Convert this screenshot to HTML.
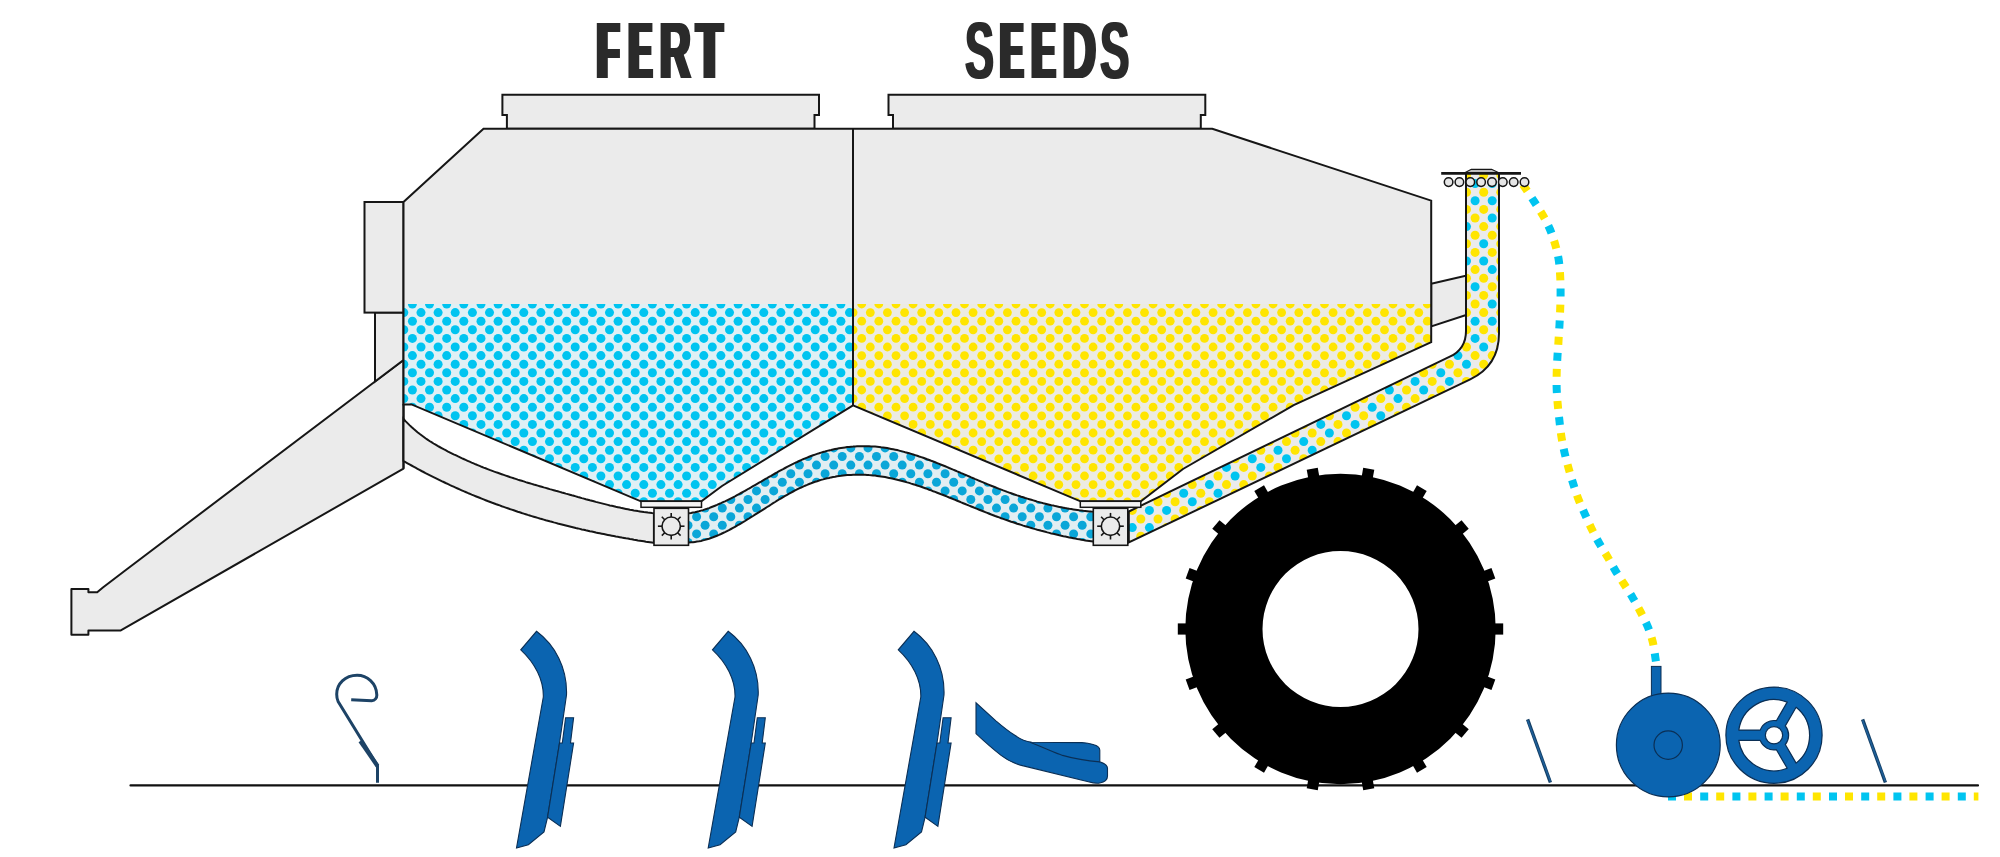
<!DOCTYPE html>
<html><head><meta charset="utf-8"><style>
html,body{margin:0;padding:0;background:#fff;overflow:hidden;}
svg{display:block;}
</style></head><body>
<svg width="2000" height="857" viewBox="0 0 2000 857">
<rect width="2000" height="857" fill="#fff"/>
<defs><clipPath id="cl"><polygon points="403.5,304 853,304 853,405.3 722,486 701.4,501.3 640.9,501.3 411.5,404.4 403.5,404.4"/></clipPath><clipPath id="cr"><polygon points="853,304 1431.2,304 1431.2,342.2 1293.7,405.2 1183,469 1140.9,501.3 1080.5,501.3 853,405.3"/></clipPath><clipPath id="cs"><path d="M689,513.3 L691,513 L693,512.6 L695,512.2 L697,511.7 L699,511.2 L701,510.6 L703,510.1 L705,509.4 L707,508.8 L709,508.1 L711,507.3 L713,506.5 L715,505.7 L717,504.9 L719,504 L721,503.2 L723,502.2 L725,501.3 L727,500.3 L729,499.3 L731,498.3 L733,497.3 L735,496.3 L737,495.2 L739,494.1 L741,493 L743,491.9 L745,490.8 L747,489.7 L749,488.5 L751,487.4 L753,486.2 L755,485.1 L757.1,483.9 L759.1,482.7 L761.1,481.6 L763.1,480.4 L765.1,479.2 L767.1,478.1 L769.1,476.9 L771.1,475.8 L773.1,474.6 L775.1,473.5 L777.1,472.4 L779.1,471.2 L781.1,470.1 L783.1,469.1 L785.1,468 L787.1,466.9 L789.1,465.9 L791.1,464.9 L793.1,463.9 L795.1,462.9 L797.1,462 L799.1,461 L801.1,460.1 L803.1,459.2 L805.1,458.4 L807.1,457.6 L809.1,456.8 L811.1,456 L813.1,455.3 L815.1,454.6 L817.1,453.9 L819.1,453.3 L821.1,452.6 L823.1,452 L825.1,451.5 L827.1,450.9 L829.1,450.4 L831.1,450 L833.1,449.5 L835.1,449.1 L837.1,448.7 L839.1,448.3 L841.1,448 L843.1,447.7 L845.1,447.4 L847.1,447.1 L849.1,446.9 L851.1,446.7 L853.1,446.6 L855.1,446.4 L857.1,446.3 L859.1,446.2 L861.1,446.2 L863.1,446.2 L865.1,446.2 L867.1,446.2 L869.1,446.3 L871.1,446.4 L873.1,446.5 L875.1,446.6 L877.1,446.8 L879.1,447 L881.1,447.3 L883.1,447.5 L885.1,447.8 L887.1,448.1 L889.1,448.5 L891.1,448.9 L893.2,449.3 L895.2,449.7 L897.2,450.1 L899.2,450.6 L901.2,451.1 L903.2,451.6 L905.2,452.2 L907.2,452.7 L909.2,453.3 L911.2,453.9 L913.2,454.5 L915.2,455.1 L917.2,455.8 L919.2,456.5 L921.2,457.1 L923.2,457.8 L925.2,458.5 L927.2,459.3 L929.2,460 L931.2,460.8 L933.2,461.5 L935.2,462.3 L937.2,463.1 L939.2,463.9 L941.2,464.7 L943.2,465.5 L945.2,466.3 L947.2,467.1 L949.2,468 L951.2,468.8 L953.2,469.7 L955.2,470.5 L957.2,471.4 L959.2,472.2 L961.2,473.1 L963.2,473.9 L965.2,474.8 L967.2,475.6 L969.2,476.5 L971.2,477.4 L973.2,478.2 L975.2,479.1 L977.2,479.9 L979.2,480.8 L981.2,481.6 L983.2,482.4 L985.2,483.3 L987.2,484.1 L989.2,484.9 L991.2,485.7 L993.2,486.5 L995.2,487.3 L997.2,488.1 L999.2,488.9 L1001.2,489.6 L1003.2,490.4 L1005.2,491.1 L1007.2,491.9 L1009.2,492.6 L1011.2,493.3 L1013.2,494 L1015.2,494.7 L1017.2,495.4 L1019.2,496 L1021.2,496.7 L1023.2,497.3 L1025.2,498 L1027.3,498.6 L1029.3,499.2 L1031.3,499.8 L1033.3,500.4 L1035.3,501 L1037.3,501.6 L1039.3,502.1 L1041.3,502.6 L1043.3,503.2 L1045.3,503.7 L1047.3,504.2 L1049.3,504.7 L1051.3,505.2 L1053.3,505.6 L1055.3,506.1 L1057.3,506.5 L1059.3,506.9 L1061.3,507.3 L1063.3,507.7 L1065.3,508.1 L1067.3,508.4 L1069.3,508.8 L1071.3,509.1 L1073.3,509.4 L1075.3,509.7 L1077.3,510 L1079.3,510.3 L1081.3,510.5 L1083.3,510.8 L1085.3,511 L1087.3,511.2 L1089.3,511.4 L1091.3,511.6 L1093.3,511.7 L1093.3,541.6 L1091.3,541.3 L1089.3,541 L1087.3,540.7 L1085.3,540.4 L1083.3,540 L1081.3,539.7 L1079.3,539.3 L1077.3,539 L1075.3,538.6 L1073.3,538.2 L1071.3,537.8 L1069.3,537.4 L1067.3,537 L1065.3,536.6 L1063.3,536.2 L1061.3,535.7 L1059.3,535.3 L1057.3,534.8 L1055.3,534.3 L1053.3,533.8 L1051.3,533.4 L1049.3,532.9 L1047.3,532.4 L1045.3,531.8 L1043.3,531.3 L1041.3,530.8 L1039.3,530.2 L1037.3,529.7 L1035.3,529.1 L1033.3,528.6 L1031.3,528 L1029.3,527.4 L1027.3,526.8 L1025.2,526.2 L1023.2,525.6 L1021.2,524.9 L1019.2,524.3 L1017.2,523.7 L1015.2,523 L1013.2,522.3 L1011.2,521.7 L1009.2,521 L1007.2,520.3 L1005.2,519.6 L1003.2,518.9 L1001.2,518.2 L999.2,517.4 L997.2,516.7 L995.2,516 L993.2,515.2 L991.2,514.5 L989.2,513.7 L987.2,512.9 L985.2,512.1 L983.2,511.3 L981.2,510.5 L979.2,509.7 L977.2,508.9 L975.2,508.1 L973.2,507.3 L971.2,506.5 L969.2,505.7 L967.2,504.8 L965.2,504 L963.2,503.2 L961.2,502.4 L959.2,501.5 L957.2,500.7 L955.2,499.9 L953.2,499.1 L951.2,498.3 L949.2,497.5 L947.2,496.6 L945.2,495.8 L943.2,495 L941.2,494.3 L939.2,493.5 L937.2,492.7 L935.2,491.9 L933.2,491.2 L931.2,490.4 L929.2,489.7 L927.2,488.9 L925.2,488.2 L923.2,487.5 L921.2,486.8 L919.2,486.1 L917.2,485.5 L915.2,484.8 L913.2,484.2 L911.2,483.6 L909.2,482.9 L907.2,482.4 L905.2,481.8 L903.2,481.2 L901.2,480.7 L899.2,480.2 L897.2,479.7 L895.2,479.2 L893.2,478.7 L891.1,478.3 L889.1,477.9 L887.1,477.5 L885.1,477.1 L883.1,476.8 L881.1,476.5 L879.1,476.2 L877.1,475.9 L875.1,475.6 L873.1,475.4 L871.1,475.2 L869.1,475.1 L867.1,474.9 L865.1,474.8 L863.1,474.8 L861.1,474.7 L859.1,474.7 L857.1,474.7 L855.1,474.7 L853.1,474.8 L851.1,474.9 L849.1,475 L847.1,475.1 L845.1,475.3 L843.1,475.5 L841.1,475.8 L839.1,476 L837.1,476.3 L835.1,476.7 L833.1,477 L831.1,477.4 L829.1,477.9 L827.1,478.3 L825.1,478.8 L823.1,479.4 L821.1,479.9 L819.1,480.5 L817.1,481.2 L815.1,481.8 L813.1,482.5 L811.1,483.3 L809.1,484 L807.1,484.9 L805.1,485.7 L803.1,486.6 L801.1,487.5 L799.1,488.4 L797.1,489.4 L795.1,490.4 L793.1,491.5 L791.1,492.6 L789.1,493.7 L787.1,494.8 L785.1,495.9 L783.1,497.1 L781.1,498.3 L779.1,499.5 L777.1,500.7 L775.1,502 L773.1,503.2 L771.1,504.5 L769.1,505.8 L767.1,507 L765.1,508.3 L763.1,509.6 L761.1,510.9 L759.1,512.2 L757.1,513.4 L755,514.7 L753,516 L751,517.2 L749,518.5 L747,519.7 L745,521 L743,522.2 L741,523.4 L739,524.5 L737,525.7 L735,526.8 L733,527.9 L731,529 L729,530.1 L727,531.1 L725,532.1 L723,533 L721,534 L719,534.9 L717,535.7 L715,536.5 L713,537.3 L711,538 L709,538.7 L707,539.3 L705,539.9 L703,540.4 L701,540.9 L699,541.3 L697,541.6 L695,541.9 L693,542.2 L691,542.3 L689,542.5 Z"/></clipPath><clipPath id="ct"><path d="M1466,174 V330.9 Q1466,348.9 1449.8,356.7 L1128.8,511.5 L1128.8,542.5 L1470.2,379.4 Q1499,365.5 1499,333.5 V174 Z"/></clipPath></defs>
<filter id="dil2_75" x="-30%" y="-10%" width="160%" height="120%"><feMorphology operator="dilate" radius="2.75 0"/></filter>
<filter id="dil1_0" x="-30%" y="-10%" width="160%" height="120%"><feMorphology operator="dilate" radius="1.0 0"/></filter>
<filter id="dil2_0" x="-30%" y="-10%" width="160%" height="120%"><feMorphology operator="dilate" radius="2.0 0"/></filter>
<filter id="dil2_2" x="-30%" y="-10%" width="160%" height="120%"><feMorphology operator="dilate" radius="2.2 0"/></filter>
<g fill="#2a2a2a" filter="url(#dil2_75)"><text transform="translate(597.5,77.7) scale(0.4378,1)" font-family="Liberation Sans" font-weight="bold" font-size="78.8">F</text><text transform="translate(629.2,77.7) scale(0.4207,1)" font-family="Liberation Sans" font-weight="bold" font-size="78.8">E</text><text transform="translate(697,77.7) scale(0.5151,1)" font-family="Liberation Sans" font-weight="bold" font-size="78.8">T</text></g><g fill="#2a2a2a" filter="url(#dil2_2)"><text transform="translate(659.8,77.7) scale(0.5418,1)" font-family="Liberation Sans" font-weight="bold" font-size="78.8">R</text></g>
<g fill="#2a2a2a" filter="url(#dil1_0)"><text transform="translate(965,77.7) scale(0.5507,1)" font-family="Liberation Sans" font-weight="bold" font-size="78.8">S</text><text transform="translate(1100.1,77.7) scale(0.5592,1)" font-family="Liberation Sans" font-weight="bold" font-size="78.8">S</text></g><g fill="#2a2a2a" filter="url(#dil2_75)"><text transform="translate(1000.7,77.7) scale(0.4139,1)" font-family="Liberation Sans" font-weight="bold" font-size="78.8">E</text><text transform="translate(1032.2,77.7) scale(0.4252,1)" font-family="Liberation Sans" font-weight="bold" font-size="78.8">E</text></g><g fill="#2a2a2a" filter="url(#dil2_0)"><text transform="translate(1062.4,77.7) scale(0.5877,1)" font-family="Liberation Sans" font-weight="bold" font-size="78.8">D</text></g>
<polygon points="403.5,360 126.5,569.5 102.9,587.5 97.2,592.3 88.4,592.3 88.4,589.1 71.4,589.1 71.4,634.7 88.4,634.7 88.4,630.4 120.8,630.4 403.5,468.6" fill="#ebebeb" stroke="#161616" stroke-width="2.0" stroke-linejoin="round"/>
<polygon points="375,312.6 403.5,312.6 403.5,360 375,381.5" fill="#ebebeb" stroke="#161616" stroke-width="2.0"/>
<rect x="364.5" y="202" width="39" height="110.6" fill="#ebebeb" stroke="#161616" stroke-width="2.0"/>
<polygon points="506.9,128.8 506.9,114.9 502.4,114.9 502.4,94.7 819,94.7 819,114.9 814.5,114.9 814.5,128.8" fill="#ebebeb" stroke="#161616" stroke-width="2.0"/>
<polygon points="893,128.8 893,114.9 888.5,114.9 888.5,94.7 1205.3,94.7 1205.3,114.9 1200.8,114.9 1200.8,128.8" fill="#ebebeb" stroke="#161616" stroke-width="2.0"/>
<polygon points="1431.2,283.7 1470,274.8 1470,313.8 1431.2,326.4" fill="#ebebeb" stroke="#161616" stroke-width="2.0"/>
<polygon points="483.5,128.8 1212.3,128.8 1431.2,200.6 1431.2,342.2 1293.7,405.2 1183,469 1140.9,501.3 1080.5,501.3 853,405.3 722,486 701.4,501.3 640.9,501.3 411.5,404.4 403.5,404.4 403.5,202" fill="#ebebeb"/>
<g clip-path="url(#cl)"><rect x="400" y="300" width="460" height="210" fill="#dff0f5"/><g fill="#00c4f0"><circle cx="412.4" cy="304" r="4.5"/><circle cx="429.5" cy="304" r="4.5"/><circle cx="446.7" cy="304" r="4.5"/><circle cx="463.8" cy="304" r="4.5"/><circle cx="481" cy="304" r="4.5"/><circle cx="498.1" cy="304" r="4.5"/><circle cx="515.2" cy="304" r="4.5"/><circle cx="532.4" cy="304" r="4.5"/><circle cx="549.5" cy="304" r="4.5"/><circle cx="566.7" cy="304" r="4.5"/><circle cx="583.8" cy="304" r="4.5"/><circle cx="600.9" cy="304" r="4.5"/><circle cx="618.1" cy="304" r="4.5"/><circle cx="635.2" cy="304" r="4.5"/><circle cx="652.4" cy="304" r="4.5"/><circle cx="669.5" cy="304" r="4.5"/><circle cx="686.6" cy="304" r="4.5"/><circle cx="703.8" cy="304" r="4.5"/><circle cx="720.9" cy="304" r="4.5"/><circle cx="738.1" cy="304" r="4.5"/><circle cx="755.2" cy="304" r="4.5"/><circle cx="772.3" cy="304" r="4.5"/><circle cx="789.5" cy="304" r="4.5"/><circle cx="806.6" cy="304" r="4.5"/><circle cx="823.8" cy="304" r="4.5"/><circle cx="840.9" cy="304" r="4.5"/><circle cx="858" cy="304" r="4.5"/><circle cx="403.8" cy="312.6" r="4.5"/><circle cx="421" cy="312.6" r="4.5"/><circle cx="438.1" cy="312.6" r="4.5"/><circle cx="455.2" cy="312.6" r="4.5"/><circle cx="472.4" cy="312.6" r="4.5"/><circle cx="489.5" cy="312.6" r="4.5"/><circle cx="506.7" cy="312.6" r="4.5"/><circle cx="523.8" cy="312.6" r="4.5"/><circle cx="540.9" cy="312.6" r="4.5"/><circle cx="558.1" cy="312.6" r="4.5"/><circle cx="575.2" cy="312.6" r="4.5"/><circle cx="592.4" cy="312.6" r="4.5"/><circle cx="609.5" cy="312.6" r="4.5"/><circle cx="626.6" cy="312.6" r="4.5"/><circle cx="643.8" cy="312.6" r="4.5"/><circle cx="660.9" cy="312.6" r="4.5"/><circle cx="678.1" cy="312.6" r="4.5"/><circle cx="695.2" cy="312.6" r="4.5"/><circle cx="712.3" cy="312.6" r="4.5"/><circle cx="729.5" cy="312.6" r="4.5"/><circle cx="746.6" cy="312.6" r="4.5"/><circle cx="763.8" cy="312.6" r="4.5"/><circle cx="780.9" cy="312.6" r="4.5"/><circle cx="798" cy="312.6" r="4.5"/><circle cx="815.2" cy="312.6" r="4.5"/><circle cx="832.3" cy="312.6" r="4.5"/><circle cx="849.5" cy="312.6" r="4.5"/><circle cx="412.4" cy="321.2" r="4.5"/><circle cx="429.5" cy="321.2" r="4.5"/><circle cx="446.7" cy="321.2" r="4.5"/><circle cx="463.8" cy="321.2" r="4.5"/><circle cx="481" cy="321.2" r="4.5"/><circle cx="498.1" cy="321.2" r="4.5"/><circle cx="515.2" cy="321.2" r="4.5"/><circle cx="532.4" cy="321.2" r="4.5"/><circle cx="549.5" cy="321.2" r="4.5"/><circle cx="566.7" cy="321.2" r="4.5"/><circle cx="583.8" cy="321.2" r="4.5"/><circle cx="600.9" cy="321.2" r="4.5"/><circle cx="618.1" cy="321.2" r="4.5"/><circle cx="635.2" cy="321.2" r="4.5"/><circle cx="652.4" cy="321.2" r="4.5"/><circle cx="669.5" cy="321.2" r="4.5"/><circle cx="686.6" cy="321.2" r="4.5"/><circle cx="703.8" cy="321.2" r="4.5"/><circle cx="720.9" cy="321.2" r="4.5"/><circle cx="738.1" cy="321.2" r="4.5"/><circle cx="755.2" cy="321.2" r="4.5"/><circle cx="772.3" cy="321.2" r="4.5"/><circle cx="789.5" cy="321.2" r="4.5"/><circle cx="806.6" cy="321.2" r="4.5"/><circle cx="823.8" cy="321.2" r="4.5"/><circle cx="840.9" cy="321.2" r="4.5"/><circle cx="858" cy="321.2" r="4.5"/><circle cx="403.8" cy="329.8" r="4.5"/><circle cx="421" cy="329.8" r="4.5"/><circle cx="438.1" cy="329.8" r="4.5"/><circle cx="455.2" cy="329.8" r="4.5"/><circle cx="472.4" cy="329.8" r="4.5"/><circle cx="489.5" cy="329.8" r="4.5"/><circle cx="506.7" cy="329.8" r="4.5"/><circle cx="523.8" cy="329.8" r="4.5"/><circle cx="540.9" cy="329.8" r="4.5"/><circle cx="558.1" cy="329.8" r="4.5"/><circle cx="575.2" cy="329.8" r="4.5"/><circle cx="592.4" cy="329.8" r="4.5"/><circle cx="609.5" cy="329.8" r="4.5"/><circle cx="626.6" cy="329.8" r="4.5"/><circle cx="643.8" cy="329.8" r="4.5"/><circle cx="660.9" cy="329.8" r="4.5"/><circle cx="678.1" cy="329.8" r="4.5"/><circle cx="695.2" cy="329.8" r="4.5"/><circle cx="712.3" cy="329.8" r="4.5"/><circle cx="729.5" cy="329.8" r="4.5"/><circle cx="746.6" cy="329.8" r="4.5"/><circle cx="763.8" cy="329.8" r="4.5"/><circle cx="780.9" cy="329.8" r="4.5"/><circle cx="798" cy="329.8" r="4.5"/><circle cx="815.2" cy="329.8" r="4.5"/><circle cx="832.3" cy="329.8" r="4.5"/><circle cx="849.5" cy="329.8" r="4.5"/><circle cx="412.4" cy="338.4" r="4.5"/><circle cx="429.5" cy="338.4" r="4.5"/><circle cx="446.7" cy="338.4" r="4.5"/><circle cx="463.8" cy="338.4" r="4.5"/><circle cx="481" cy="338.4" r="4.5"/><circle cx="498.1" cy="338.4" r="4.5"/><circle cx="515.2" cy="338.4" r="4.5"/><circle cx="532.4" cy="338.4" r="4.5"/><circle cx="549.5" cy="338.4" r="4.5"/><circle cx="566.7" cy="338.4" r="4.5"/><circle cx="583.8" cy="338.4" r="4.5"/><circle cx="600.9" cy="338.4" r="4.5"/><circle cx="618.1" cy="338.4" r="4.5"/><circle cx="635.2" cy="338.4" r="4.5"/><circle cx="652.4" cy="338.4" r="4.5"/><circle cx="669.5" cy="338.4" r="4.5"/><circle cx="686.6" cy="338.4" r="4.5"/><circle cx="703.8" cy="338.4" r="4.5"/><circle cx="720.9" cy="338.4" r="4.5"/><circle cx="738.1" cy="338.4" r="4.5"/><circle cx="755.2" cy="338.4" r="4.5"/><circle cx="772.3" cy="338.4" r="4.5"/><circle cx="789.5" cy="338.4" r="4.5"/><circle cx="806.6" cy="338.4" r="4.5"/><circle cx="823.8" cy="338.4" r="4.5"/><circle cx="840.9" cy="338.4" r="4.5"/><circle cx="858" cy="338.4" r="4.5"/><circle cx="403.8" cy="347" r="4.5"/><circle cx="421" cy="347" r="4.5"/><circle cx="438.1" cy="347" r="4.5"/><circle cx="455.2" cy="347" r="4.5"/><circle cx="472.4" cy="347" r="4.5"/><circle cx="489.5" cy="347" r="4.5"/><circle cx="506.7" cy="347" r="4.5"/><circle cx="523.8" cy="347" r="4.5"/><circle cx="540.9" cy="347" r="4.5"/><circle cx="558.1" cy="347" r="4.5"/><circle cx="575.2" cy="347" r="4.5"/><circle cx="592.4" cy="347" r="4.5"/><circle cx="609.5" cy="347" r="4.5"/><circle cx="626.6" cy="347" r="4.5"/><circle cx="643.8" cy="347" r="4.5"/><circle cx="660.9" cy="347" r="4.5"/><circle cx="678.1" cy="347" r="4.5"/><circle cx="695.2" cy="347" r="4.5"/><circle cx="712.3" cy="347" r="4.5"/><circle cx="729.5" cy="347" r="4.5"/><circle cx="746.6" cy="347" r="4.5"/><circle cx="763.8" cy="347" r="4.5"/><circle cx="780.9" cy="347" r="4.5"/><circle cx="798" cy="347" r="4.5"/><circle cx="815.2" cy="347" r="4.5"/><circle cx="832.3" cy="347" r="4.5"/><circle cx="849.5" cy="347" r="4.5"/><circle cx="412.4" cy="355.6" r="4.5"/><circle cx="429.5" cy="355.6" r="4.5"/><circle cx="446.7" cy="355.6" r="4.5"/><circle cx="463.8" cy="355.6" r="4.5"/><circle cx="481" cy="355.6" r="4.5"/><circle cx="498.1" cy="355.6" r="4.5"/><circle cx="515.2" cy="355.6" r="4.5"/><circle cx="532.4" cy="355.6" r="4.5"/><circle cx="549.5" cy="355.6" r="4.5"/><circle cx="566.7" cy="355.6" r="4.5"/><circle cx="583.8" cy="355.6" r="4.5"/><circle cx="600.9" cy="355.6" r="4.5"/><circle cx="618.1" cy="355.6" r="4.5"/><circle cx="635.2" cy="355.6" r="4.5"/><circle cx="652.4" cy="355.6" r="4.5"/><circle cx="669.5" cy="355.6" r="4.5"/><circle cx="686.6" cy="355.6" r="4.5"/><circle cx="703.8" cy="355.6" r="4.5"/><circle cx="720.9" cy="355.6" r="4.5"/><circle cx="738.1" cy="355.6" r="4.5"/><circle cx="755.2" cy="355.6" r="4.5"/><circle cx="772.3" cy="355.6" r="4.5"/><circle cx="789.5" cy="355.6" r="4.5"/><circle cx="806.6" cy="355.6" r="4.5"/><circle cx="823.8" cy="355.6" r="4.5"/><circle cx="840.9" cy="355.6" r="4.5"/><circle cx="858" cy="355.6" r="4.5"/><circle cx="403.8" cy="364.2" r="4.5"/><circle cx="421" cy="364.2" r="4.5"/><circle cx="438.1" cy="364.2" r="4.5"/><circle cx="455.2" cy="364.2" r="4.5"/><circle cx="472.4" cy="364.2" r="4.5"/><circle cx="489.5" cy="364.2" r="4.5"/><circle cx="506.7" cy="364.2" r="4.5"/><circle cx="523.8" cy="364.2" r="4.5"/><circle cx="540.9" cy="364.2" r="4.5"/><circle cx="558.1" cy="364.2" r="4.5"/><circle cx="575.2" cy="364.2" r="4.5"/><circle cx="592.4" cy="364.2" r="4.5"/><circle cx="609.5" cy="364.2" r="4.5"/><circle cx="626.6" cy="364.2" r="4.5"/><circle cx="643.8" cy="364.2" r="4.5"/><circle cx="660.9" cy="364.2" r="4.5"/><circle cx="678.1" cy="364.2" r="4.5"/><circle cx="695.2" cy="364.2" r="4.5"/><circle cx="712.3" cy="364.2" r="4.5"/><circle cx="729.5" cy="364.2" r="4.5"/><circle cx="746.6" cy="364.2" r="4.5"/><circle cx="763.8" cy="364.2" r="4.5"/><circle cx="780.9" cy="364.2" r="4.5"/><circle cx="798" cy="364.2" r="4.5"/><circle cx="815.2" cy="364.2" r="4.5"/><circle cx="832.3" cy="364.2" r="4.5"/><circle cx="849.5" cy="364.2" r="4.5"/><circle cx="412.4" cy="372.8" r="4.5"/><circle cx="429.5" cy="372.8" r="4.5"/><circle cx="446.7" cy="372.8" r="4.5"/><circle cx="463.8" cy="372.8" r="4.5"/><circle cx="481" cy="372.8" r="4.5"/><circle cx="498.1" cy="372.8" r="4.5"/><circle cx="515.2" cy="372.8" r="4.5"/><circle cx="532.4" cy="372.8" r="4.5"/><circle cx="549.5" cy="372.8" r="4.5"/><circle cx="566.7" cy="372.8" r="4.5"/><circle cx="583.8" cy="372.8" r="4.5"/><circle cx="600.9" cy="372.8" r="4.5"/><circle cx="618.1" cy="372.8" r="4.5"/><circle cx="635.2" cy="372.8" r="4.5"/><circle cx="652.4" cy="372.8" r="4.5"/><circle cx="669.5" cy="372.8" r="4.5"/><circle cx="686.6" cy="372.8" r="4.5"/><circle cx="703.8" cy="372.8" r="4.5"/><circle cx="720.9" cy="372.8" r="4.5"/><circle cx="738.1" cy="372.8" r="4.5"/><circle cx="755.2" cy="372.8" r="4.5"/><circle cx="772.3" cy="372.8" r="4.5"/><circle cx="789.5" cy="372.8" r="4.5"/><circle cx="806.6" cy="372.8" r="4.5"/><circle cx="823.8" cy="372.8" r="4.5"/><circle cx="840.9" cy="372.8" r="4.5"/><circle cx="858" cy="372.8" r="4.5"/><circle cx="403.8" cy="381.4" r="4.5"/><circle cx="421" cy="381.4" r="4.5"/><circle cx="438.1" cy="381.4" r="4.5"/><circle cx="455.2" cy="381.4" r="4.5"/><circle cx="472.4" cy="381.4" r="4.5"/><circle cx="489.5" cy="381.4" r="4.5"/><circle cx="506.7" cy="381.4" r="4.5"/><circle cx="523.8" cy="381.4" r="4.5"/><circle cx="540.9" cy="381.4" r="4.5"/><circle cx="558.1" cy="381.4" r="4.5"/><circle cx="575.2" cy="381.4" r="4.5"/><circle cx="592.4" cy="381.4" r="4.5"/><circle cx="609.5" cy="381.4" r="4.5"/><circle cx="626.6" cy="381.4" r="4.5"/><circle cx="643.8" cy="381.4" r="4.5"/><circle cx="660.9" cy="381.4" r="4.5"/><circle cx="678.1" cy="381.4" r="4.5"/><circle cx="695.2" cy="381.4" r="4.5"/><circle cx="712.3" cy="381.4" r="4.5"/><circle cx="729.5" cy="381.4" r="4.5"/><circle cx="746.6" cy="381.4" r="4.5"/><circle cx="763.8" cy="381.4" r="4.5"/><circle cx="780.9" cy="381.4" r="4.5"/><circle cx="798" cy="381.4" r="4.5"/><circle cx="815.2" cy="381.4" r="4.5"/><circle cx="832.3" cy="381.4" r="4.5"/><circle cx="849.5" cy="381.4" r="4.5"/><circle cx="412.4" cy="390" r="4.5"/><circle cx="429.5" cy="390" r="4.5"/><circle cx="446.7" cy="390" r="4.5"/><circle cx="463.8" cy="390" r="4.5"/><circle cx="481" cy="390" r="4.5"/><circle cx="498.1" cy="390" r="4.5"/><circle cx="515.2" cy="390" r="4.5"/><circle cx="532.4" cy="390" r="4.5"/><circle cx="549.5" cy="390" r="4.5"/><circle cx="566.7" cy="390" r="4.5"/><circle cx="583.8" cy="390" r="4.5"/><circle cx="600.9" cy="390" r="4.5"/><circle cx="618.1" cy="390" r="4.5"/><circle cx="635.2" cy="390" r="4.5"/><circle cx="652.4" cy="390" r="4.5"/><circle cx="669.5" cy="390" r="4.5"/><circle cx="686.6" cy="390" r="4.5"/><circle cx="703.8" cy="390" r="4.5"/><circle cx="720.9" cy="390" r="4.5"/><circle cx="738.1" cy="390" r="4.5"/><circle cx="755.2" cy="390" r="4.5"/><circle cx="772.3" cy="390" r="4.5"/><circle cx="789.5" cy="390" r="4.5"/><circle cx="806.6" cy="390" r="4.5"/><circle cx="823.8" cy="390" r="4.5"/><circle cx="840.9" cy="390" r="4.5"/><circle cx="858" cy="390" r="4.5"/><circle cx="403.8" cy="398.6" r="4.5"/><circle cx="421" cy="398.6" r="4.5"/><circle cx="438.1" cy="398.6" r="4.5"/><circle cx="455.2" cy="398.6" r="4.5"/><circle cx="472.4" cy="398.6" r="4.5"/><circle cx="489.5" cy="398.6" r="4.5"/><circle cx="506.7" cy="398.6" r="4.5"/><circle cx="523.8" cy="398.6" r="4.5"/><circle cx="540.9" cy="398.6" r="4.5"/><circle cx="558.1" cy="398.6" r="4.5"/><circle cx="575.2" cy="398.6" r="4.5"/><circle cx="592.4" cy="398.6" r="4.5"/><circle cx="609.5" cy="398.6" r="4.5"/><circle cx="626.6" cy="398.6" r="4.5"/><circle cx="643.8" cy="398.6" r="4.5"/><circle cx="660.9" cy="398.6" r="4.5"/><circle cx="678.1" cy="398.6" r="4.5"/><circle cx="695.2" cy="398.6" r="4.5"/><circle cx="712.3" cy="398.6" r="4.5"/><circle cx="729.5" cy="398.6" r="4.5"/><circle cx="746.6" cy="398.6" r="4.5"/><circle cx="763.8" cy="398.6" r="4.5"/><circle cx="780.9" cy="398.6" r="4.5"/><circle cx="798" cy="398.6" r="4.5"/><circle cx="815.2" cy="398.6" r="4.5"/><circle cx="832.3" cy="398.6" r="4.5"/><circle cx="849.5" cy="398.6" r="4.5"/><circle cx="412.4" cy="407.2" r="4.5"/><circle cx="429.5" cy="407.2" r="4.5"/><circle cx="446.7" cy="407.2" r="4.5"/><circle cx="463.8" cy="407.2" r="4.5"/><circle cx="481" cy="407.2" r="4.5"/><circle cx="498.1" cy="407.2" r="4.5"/><circle cx="515.2" cy="407.2" r="4.5"/><circle cx="532.4" cy="407.2" r="4.5"/><circle cx="549.5" cy="407.2" r="4.5"/><circle cx="566.7" cy="407.2" r="4.5"/><circle cx="583.8" cy="407.2" r="4.5"/><circle cx="600.9" cy="407.2" r="4.5"/><circle cx="618.1" cy="407.2" r="4.5"/><circle cx="635.2" cy="407.2" r="4.5"/><circle cx="652.4" cy="407.2" r="4.5"/><circle cx="669.5" cy="407.2" r="4.5"/><circle cx="686.6" cy="407.2" r="4.5"/><circle cx="703.8" cy="407.2" r="4.5"/><circle cx="720.9" cy="407.2" r="4.5"/><circle cx="738.1" cy="407.2" r="4.5"/><circle cx="755.2" cy="407.2" r="4.5"/><circle cx="772.3" cy="407.2" r="4.5"/><circle cx="789.5" cy="407.2" r="4.5"/><circle cx="806.6" cy="407.2" r="4.5"/><circle cx="823.8" cy="407.2" r="4.5"/><circle cx="840.9" cy="407.2" r="4.5"/><circle cx="858" cy="407.2" r="4.5"/><circle cx="403.8" cy="415.8" r="4.5"/><circle cx="421" cy="415.8" r="4.5"/><circle cx="438.1" cy="415.8" r="4.5"/><circle cx="455.2" cy="415.8" r="4.5"/><circle cx="472.4" cy="415.8" r="4.5"/><circle cx="489.5" cy="415.8" r="4.5"/><circle cx="506.7" cy="415.8" r="4.5"/><circle cx="523.8" cy="415.8" r="4.5"/><circle cx="540.9" cy="415.8" r="4.5"/><circle cx="558.1" cy="415.8" r="4.5"/><circle cx="575.2" cy="415.8" r="4.5"/><circle cx="592.4" cy="415.8" r="4.5"/><circle cx="609.5" cy="415.8" r="4.5"/><circle cx="626.6" cy="415.8" r="4.5"/><circle cx="643.8" cy="415.8" r="4.5"/><circle cx="660.9" cy="415.8" r="4.5"/><circle cx="678.1" cy="415.8" r="4.5"/><circle cx="695.2" cy="415.8" r="4.5"/><circle cx="712.3" cy="415.8" r="4.5"/><circle cx="729.5" cy="415.8" r="4.5"/><circle cx="746.6" cy="415.8" r="4.5"/><circle cx="763.8" cy="415.8" r="4.5"/><circle cx="780.9" cy="415.8" r="4.5"/><circle cx="798" cy="415.8" r="4.5"/><circle cx="815.2" cy="415.8" r="4.5"/><circle cx="832.3" cy="415.8" r="4.5"/><circle cx="849.5" cy="415.8" r="4.5"/><circle cx="412.4" cy="424.4" r="4.5"/><circle cx="429.5" cy="424.4" r="4.5"/><circle cx="446.7" cy="424.4" r="4.5"/><circle cx="463.8" cy="424.4" r="4.5"/><circle cx="481" cy="424.4" r="4.5"/><circle cx="498.1" cy="424.4" r="4.5"/><circle cx="515.2" cy="424.4" r="4.5"/><circle cx="532.4" cy="424.4" r="4.5"/><circle cx="549.5" cy="424.4" r="4.5"/><circle cx="566.7" cy="424.4" r="4.5"/><circle cx="583.8" cy="424.4" r="4.5"/><circle cx="600.9" cy="424.4" r="4.5"/><circle cx="618.1" cy="424.4" r="4.5"/><circle cx="635.2" cy="424.4" r="4.5"/><circle cx="652.4" cy="424.4" r="4.5"/><circle cx="669.5" cy="424.4" r="4.5"/><circle cx="686.6" cy="424.4" r="4.5"/><circle cx="703.8" cy="424.4" r="4.5"/><circle cx="720.9" cy="424.4" r="4.5"/><circle cx="738.1" cy="424.4" r="4.5"/><circle cx="755.2" cy="424.4" r="4.5"/><circle cx="772.3" cy="424.4" r="4.5"/><circle cx="789.5" cy="424.4" r="4.5"/><circle cx="806.6" cy="424.4" r="4.5"/><circle cx="823.8" cy="424.4" r="4.5"/><circle cx="840.9" cy="424.4" r="4.5"/><circle cx="858" cy="424.4" r="4.5"/><circle cx="403.8" cy="433" r="4.5"/><circle cx="421" cy="433" r="4.5"/><circle cx="438.1" cy="433" r="4.5"/><circle cx="455.2" cy="433" r="4.5"/><circle cx="472.4" cy="433" r="4.5"/><circle cx="489.5" cy="433" r="4.5"/><circle cx="506.7" cy="433" r="4.5"/><circle cx="523.8" cy="433" r="4.5"/><circle cx="540.9" cy="433" r="4.5"/><circle cx="558.1" cy="433" r="4.5"/><circle cx="575.2" cy="433" r="4.5"/><circle cx="592.4" cy="433" r="4.5"/><circle cx="609.5" cy="433" r="4.5"/><circle cx="626.6" cy="433" r="4.5"/><circle cx="643.8" cy="433" r="4.5"/><circle cx="660.9" cy="433" r="4.5"/><circle cx="678.1" cy="433" r="4.5"/><circle cx="695.2" cy="433" r="4.5"/><circle cx="712.3" cy="433" r="4.5"/><circle cx="729.5" cy="433" r="4.5"/><circle cx="746.6" cy="433" r="4.5"/><circle cx="763.8" cy="433" r="4.5"/><circle cx="780.9" cy="433" r="4.5"/><circle cx="798" cy="433" r="4.5"/><circle cx="815.2" cy="433" r="4.5"/><circle cx="832.3" cy="433" r="4.5"/><circle cx="849.5" cy="433" r="4.5"/><circle cx="412.4" cy="441.6" r="4.5"/><circle cx="429.5" cy="441.6" r="4.5"/><circle cx="446.7" cy="441.6" r="4.5"/><circle cx="463.8" cy="441.6" r="4.5"/><circle cx="481" cy="441.6" r="4.5"/><circle cx="498.1" cy="441.6" r="4.5"/><circle cx="515.2" cy="441.6" r="4.5"/><circle cx="532.4" cy="441.6" r="4.5"/><circle cx="549.5" cy="441.6" r="4.5"/><circle cx="566.7" cy="441.6" r="4.5"/><circle cx="583.8" cy="441.6" r="4.5"/><circle cx="600.9" cy="441.6" r="4.5"/><circle cx="618.1" cy="441.6" r="4.5"/><circle cx="635.2" cy="441.6" r="4.5"/><circle cx="652.4" cy="441.6" r="4.5"/><circle cx="669.5" cy="441.6" r="4.5"/><circle cx="686.6" cy="441.6" r="4.5"/><circle cx="703.8" cy="441.6" r="4.5"/><circle cx="720.9" cy="441.6" r="4.5"/><circle cx="738.1" cy="441.6" r="4.5"/><circle cx="755.2" cy="441.6" r="4.5"/><circle cx="772.3" cy="441.6" r="4.5"/><circle cx="789.5" cy="441.6" r="4.5"/><circle cx="806.6" cy="441.6" r="4.5"/><circle cx="823.8" cy="441.6" r="4.5"/><circle cx="840.9" cy="441.6" r="4.5"/><circle cx="858" cy="441.6" r="4.5"/><circle cx="403.8" cy="450.2" r="4.5"/><circle cx="421" cy="450.2" r="4.5"/><circle cx="438.1" cy="450.2" r="4.5"/><circle cx="455.2" cy="450.2" r="4.5"/><circle cx="472.4" cy="450.2" r="4.5"/><circle cx="489.5" cy="450.2" r="4.5"/><circle cx="506.7" cy="450.2" r="4.5"/><circle cx="523.8" cy="450.2" r="4.5"/><circle cx="540.9" cy="450.2" r="4.5"/><circle cx="558.1" cy="450.2" r="4.5"/><circle cx="575.2" cy="450.2" r="4.5"/><circle cx="592.4" cy="450.2" r="4.5"/><circle cx="609.5" cy="450.2" r="4.5"/><circle cx="626.6" cy="450.2" r="4.5"/><circle cx="643.8" cy="450.2" r="4.5"/><circle cx="660.9" cy="450.2" r="4.5"/><circle cx="678.1" cy="450.2" r="4.5"/><circle cx="695.2" cy="450.2" r="4.5"/><circle cx="712.3" cy="450.2" r="4.5"/><circle cx="729.5" cy="450.2" r="4.5"/><circle cx="746.6" cy="450.2" r="4.5"/><circle cx="763.8" cy="450.2" r="4.5"/><circle cx="780.9" cy="450.2" r="4.5"/><circle cx="798" cy="450.2" r="4.5"/><circle cx="815.2" cy="450.2" r="4.5"/><circle cx="832.3" cy="450.2" r="4.5"/><circle cx="849.5" cy="450.2" r="4.5"/><circle cx="412.4" cy="458.8" r="4.5"/><circle cx="429.5" cy="458.8" r="4.5"/><circle cx="446.7" cy="458.8" r="4.5"/><circle cx="463.8" cy="458.8" r="4.5"/><circle cx="481" cy="458.8" r="4.5"/><circle cx="498.1" cy="458.8" r="4.5"/><circle cx="515.2" cy="458.8" r="4.5"/><circle cx="532.4" cy="458.8" r="4.5"/><circle cx="549.5" cy="458.8" r="4.5"/><circle cx="566.7" cy="458.8" r="4.5"/><circle cx="583.8" cy="458.8" r="4.5"/><circle cx="600.9" cy="458.8" r="4.5"/><circle cx="618.1" cy="458.8" r="4.5"/><circle cx="635.2" cy="458.8" r="4.5"/><circle cx="652.4" cy="458.8" r="4.5"/><circle cx="669.5" cy="458.8" r="4.5"/><circle cx="686.6" cy="458.8" r="4.5"/><circle cx="703.8" cy="458.8" r="4.5"/><circle cx="720.9" cy="458.8" r="4.5"/><circle cx="738.1" cy="458.8" r="4.5"/><circle cx="755.2" cy="458.8" r="4.5"/><circle cx="772.3" cy="458.8" r="4.5"/><circle cx="789.5" cy="458.8" r="4.5"/><circle cx="806.6" cy="458.8" r="4.5"/><circle cx="823.8" cy="458.8" r="4.5"/><circle cx="840.9" cy="458.8" r="4.5"/><circle cx="858" cy="458.8" r="4.5"/><circle cx="403.8" cy="467.4" r="4.5"/><circle cx="421" cy="467.4" r="4.5"/><circle cx="438.1" cy="467.4" r="4.5"/><circle cx="455.2" cy="467.4" r="4.5"/><circle cx="472.4" cy="467.4" r="4.5"/><circle cx="489.5" cy="467.4" r="4.5"/><circle cx="506.7" cy="467.4" r="4.5"/><circle cx="523.8" cy="467.4" r="4.5"/><circle cx="540.9" cy="467.4" r="4.5"/><circle cx="558.1" cy="467.4" r="4.5"/><circle cx="575.2" cy="467.4" r="4.5"/><circle cx="592.4" cy="467.4" r="4.5"/><circle cx="609.5" cy="467.4" r="4.5"/><circle cx="626.6" cy="467.4" r="4.5"/><circle cx="643.8" cy="467.4" r="4.5"/><circle cx="660.9" cy="467.4" r="4.5"/><circle cx="678.1" cy="467.4" r="4.5"/><circle cx="695.2" cy="467.4" r="4.5"/><circle cx="712.3" cy="467.4" r="4.5"/><circle cx="729.5" cy="467.4" r="4.5"/><circle cx="746.6" cy="467.4" r="4.5"/><circle cx="763.8" cy="467.4" r="4.5"/><circle cx="780.9" cy="467.4" r="4.5"/><circle cx="798" cy="467.4" r="4.5"/><circle cx="815.2" cy="467.4" r="4.5"/><circle cx="832.3" cy="467.4" r="4.5"/><circle cx="849.5" cy="467.4" r="4.5"/><circle cx="412.4" cy="476" r="4.5"/><circle cx="429.5" cy="476" r="4.5"/><circle cx="446.7" cy="476" r="4.5"/><circle cx="463.8" cy="476" r="4.5"/><circle cx="481" cy="476" r="4.5"/><circle cx="498.1" cy="476" r="4.5"/><circle cx="515.2" cy="476" r="4.5"/><circle cx="532.4" cy="476" r="4.5"/><circle cx="549.5" cy="476" r="4.5"/><circle cx="566.7" cy="476" r="4.5"/><circle cx="583.8" cy="476" r="4.5"/><circle cx="600.9" cy="476" r="4.5"/><circle cx="618.1" cy="476" r="4.5"/><circle cx="635.2" cy="476" r="4.5"/><circle cx="652.4" cy="476" r="4.5"/><circle cx="669.5" cy="476" r="4.5"/><circle cx="686.6" cy="476" r="4.5"/><circle cx="703.8" cy="476" r="4.5"/><circle cx="720.9" cy="476" r="4.5"/><circle cx="738.1" cy="476" r="4.5"/><circle cx="755.2" cy="476" r="4.5"/><circle cx="772.3" cy="476" r="4.5"/><circle cx="789.5" cy="476" r="4.5"/><circle cx="806.6" cy="476" r="4.5"/><circle cx="823.8" cy="476" r="4.5"/><circle cx="840.9" cy="476" r="4.5"/><circle cx="858" cy="476" r="4.5"/><circle cx="403.8" cy="484.6" r="4.5"/><circle cx="421" cy="484.6" r="4.5"/><circle cx="438.1" cy="484.6" r="4.5"/><circle cx="455.2" cy="484.6" r="4.5"/><circle cx="472.4" cy="484.6" r="4.5"/><circle cx="489.5" cy="484.6" r="4.5"/><circle cx="506.7" cy="484.6" r="4.5"/><circle cx="523.8" cy="484.6" r="4.5"/><circle cx="540.9" cy="484.6" r="4.5"/><circle cx="558.1" cy="484.6" r="4.5"/><circle cx="575.2" cy="484.6" r="4.5"/><circle cx="592.4" cy="484.6" r="4.5"/><circle cx="609.5" cy="484.6" r="4.5"/><circle cx="626.6" cy="484.6" r="4.5"/><circle cx="643.8" cy="484.6" r="4.5"/><circle cx="660.9" cy="484.6" r="4.5"/><circle cx="678.1" cy="484.6" r="4.5"/><circle cx="695.2" cy="484.6" r="4.5"/><circle cx="712.3" cy="484.6" r="4.5"/><circle cx="729.5" cy="484.6" r="4.5"/><circle cx="746.6" cy="484.6" r="4.5"/><circle cx="763.8" cy="484.6" r="4.5"/><circle cx="780.9" cy="484.6" r="4.5"/><circle cx="798" cy="484.6" r="4.5"/><circle cx="815.2" cy="484.6" r="4.5"/><circle cx="832.3" cy="484.6" r="4.5"/><circle cx="849.5" cy="484.6" r="4.5"/><circle cx="412.4" cy="493.2" r="4.5"/><circle cx="429.5" cy="493.2" r="4.5"/><circle cx="446.7" cy="493.2" r="4.5"/><circle cx="463.8" cy="493.2" r="4.5"/><circle cx="481" cy="493.2" r="4.5"/><circle cx="498.1" cy="493.2" r="4.5"/><circle cx="515.2" cy="493.2" r="4.5"/><circle cx="532.4" cy="493.2" r="4.5"/><circle cx="549.5" cy="493.2" r="4.5"/><circle cx="566.7" cy="493.2" r="4.5"/><circle cx="583.8" cy="493.2" r="4.5"/><circle cx="600.9" cy="493.2" r="4.5"/><circle cx="618.1" cy="493.2" r="4.5"/><circle cx="635.2" cy="493.2" r="4.5"/><circle cx="652.4" cy="493.2" r="4.5"/><circle cx="669.5" cy="493.2" r="4.5"/><circle cx="686.6" cy="493.2" r="4.5"/><circle cx="703.8" cy="493.2" r="4.5"/><circle cx="720.9" cy="493.2" r="4.5"/><circle cx="738.1" cy="493.2" r="4.5"/><circle cx="755.2" cy="493.2" r="4.5"/><circle cx="772.3" cy="493.2" r="4.5"/><circle cx="789.5" cy="493.2" r="4.5"/><circle cx="806.6" cy="493.2" r="4.5"/><circle cx="823.8" cy="493.2" r="4.5"/><circle cx="840.9" cy="493.2" r="4.5"/><circle cx="858" cy="493.2" r="4.5"/><circle cx="403.8" cy="501.8" r="4.5"/><circle cx="421" cy="501.8" r="4.5"/><circle cx="438.1" cy="501.8" r="4.5"/><circle cx="455.2" cy="501.8" r="4.5"/><circle cx="472.4" cy="501.8" r="4.5"/><circle cx="489.5" cy="501.8" r="4.5"/><circle cx="506.7" cy="501.8" r="4.5"/><circle cx="523.8" cy="501.8" r="4.5"/><circle cx="540.9" cy="501.8" r="4.5"/><circle cx="558.1" cy="501.8" r="4.5"/><circle cx="575.2" cy="501.8" r="4.5"/><circle cx="592.4" cy="501.8" r="4.5"/><circle cx="609.5" cy="501.8" r="4.5"/><circle cx="626.6" cy="501.8" r="4.5"/><circle cx="643.8" cy="501.8" r="4.5"/><circle cx="660.9" cy="501.8" r="4.5"/><circle cx="678.1" cy="501.8" r="4.5"/><circle cx="695.2" cy="501.8" r="4.5"/><circle cx="712.3" cy="501.8" r="4.5"/><circle cx="729.5" cy="501.8" r="4.5"/><circle cx="746.6" cy="501.8" r="4.5"/><circle cx="763.8" cy="501.8" r="4.5"/><circle cx="780.9" cy="501.8" r="4.5"/><circle cx="798" cy="501.8" r="4.5"/><circle cx="815.2" cy="501.8" r="4.5"/><circle cx="832.3" cy="501.8" r="4.5"/><circle cx="849.5" cy="501.8" r="4.5"/></g></g>
<g clip-path="url(#cr)"><rect x="850" y="300" width="590" height="210" fill="#ecebe2"/><g fill="#ffe500"><circle cx="861.7" cy="304" r="4.4"/><circle cx="878.8" cy="304" r="4.4"/><circle cx="896" cy="304" r="4.4"/><circle cx="913.1" cy="304" r="4.4"/><circle cx="930.3" cy="304" r="4.4"/><circle cx="947.4" cy="304" r="4.4"/><circle cx="964.5" cy="304" r="4.4"/><circle cx="981.7" cy="304" r="4.4"/><circle cx="998.8" cy="304" r="4.4"/><circle cx="1016" cy="304" r="4.4"/><circle cx="1033.1" cy="304" r="4.4"/><circle cx="1050.2" cy="304" r="4.4"/><circle cx="1067.4" cy="304" r="4.4"/><circle cx="1084.5" cy="304" r="4.4"/><circle cx="1101.7" cy="304" r="4.4"/><circle cx="1118.8" cy="304" r="4.4"/><circle cx="1135.9" cy="304" r="4.4"/><circle cx="1153.1" cy="304" r="4.4"/><circle cx="1170.2" cy="304" r="4.4"/><circle cx="1187.4" cy="304" r="4.4"/><circle cx="1204.5" cy="304" r="4.4"/><circle cx="1221.6" cy="304" r="4.4"/><circle cx="1238.8" cy="304" r="4.4"/><circle cx="1255.9" cy="304" r="4.4"/><circle cx="1273.1" cy="304" r="4.4"/><circle cx="1290.2" cy="304" r="4.4"/><circle cx="1307.3" cy="304" r="4.4"/><circle cx="1324.5" cy="304" r="4.4"/><circle cx="1341.6" cy="304" r="4.4"/><circle cx="1358.8" cy="304" r="4.4"/><circle cx="1375.9" cy="304" r="4.4"/><circle cx="1393" cy="304" r="4.4"/><circle cx="1410.2" cy="304" r="4.4"/><circle cx="1427.3" cy="304" r="4.4"/><circle cx="853.1" cy="312.6" r="4.4"/><circle cx="870.3" cy="312.6" r="4.4"/><circle cx="887.4" cy="312.6" r="4.4"/><circle cx="904.6" cy="312.6" r="4.4"/><circle cx="921.7" cy="312.6" r="4.4"/><circle cx="938.8" cy="312.6" r="4.4"/><circle cx="956" cy="312.6" r="4.4"/><circle cx="973.1" cy="312.6" r="4.4"/><circle cx="990.2" cy="312.6" r="4.4"/><circle cx="1007.4" cy="312.6" r="4.4"/><circle cx="1024.5" cy="312.6" r="4.4"/><circle cx="1041.7" cy="312.6" r="4.4"/><circle cx="1058.8" cy="312.6" r="4.4"/><circle cx="1076" cy="312.6" r="4.4"/><circle cx="1093.1" cy="312.6" r="4.4"/><circle cx="1110.2" cy="312.6" r="4.4"/><circle cx="1127.4" cy="312.6" r="4.4"/><circle cx="1144.5" cy="312.6" r="4.4"/><circle cx="1161.7" cy="312.6" r="4.4"/><circle cx="1178.8" cy="312.6" r="4.4"/><circle cx="1195.9" cy="312.6" r="4.4"/><circle cx="1213.1" cy="312.6" r="4.4"/><circle cx="1230.2" cy="312.6" r="4.4"/><circle cx="1247.4" cy="312.6" r="4.4"/><circle cx="1264.5" cy="312.6" r="4.4"/><circle cx="1281.6" cy="312.6" r="4.4"/><circle cx="1298.8" cy="312.6" r="4.4"/><circle cx="1315.9" cy="312.6" r="4.4"/><circle cx="1333.1" cy="312.6" r="4.4"/><circle cx="1350.2" cy="312.6" r="4.4"/><circle cx="1367.3" cy="312.6" r="4.4"/><circle cx="1384.5" cy="312.6" r="4.4"/><circle cx="1401.6" cy="312.6" r="4.4"/><circle cx="1418.8" cy="312.6" r="4.4"/><circle cx="1435.9" cy="312.6" r="4.4"/><circle cx="861.7" cy="321.2" r="4.4"/><circle cx="878.8" cy="321.2" r="4.4"/><circle cx="896" cy="321.2" r="4.4"/><circle cx="913.1" cy="321.2" r="4.4"/><circle cx="930.3" cy="321.2" r="4.4"/><circle cx="947.4" cy="321.2" r="4.4"/><circle cx="964.5" cy="321.2" r="4.4"/><circle cx="981.7" cy="321.2" r="4.4"/><circle cx="998.8" cy="321.2" r="4.4"/><circle cx="1016" cy="321.2" r="4.4"/><circle cx="1033.1" cy="321.2" r="4.4"/><circle cx="1050.2" cy="321.2" r="4.4"/><circle cx="1067.4" cy="321.2" r="4.4"/><circle cx="1084.5" cy="321.2" r="4.4"/><circle cx="1101.7" cy="321.2" r="4.4"/><circle cx="1118.8" cy="321.2" r="4.4"/><circle cx="1135.9" cy="321.2" r="4.4"/><circle cx="1153.1" cy="321.2" r="4.4"/><circle cx="1170.2" cy="321.2" r="4.4"/><circle cx="1187.4" cy="321.2" r="4.4"/><circle cx="1204.5" cy="321.2" r="4.4"/><circle cx="1221.6" cy="321.2" r="4.4"/><circle cx="1238.8" cy="321.2" r="4.4"/><circle cx="1255.9" cy="321.2" r="4.4"/><circle cx="1273.1" cy="321.2" r="4.4"/><circle cx="1290.2" cy="321.2" r="4.4"/><circle cx="1307.3" cy="321.2" r="4.4"/><circle cx="1324.5" cy="321.2" r="4.4"/><circle cx="1341.6" cy="321.2" r="4.4"/><circle cx="1358.8" cy="321.2" r="4.4"/><circle cx="1375.9" cy="321.2" r="4.4"/><circle cx="1393" cy="321.2" r="4.4"/><circle cx="1410.2" cy="321.2" r="4.4"/><circle cx="1427.3" cy="321.2" r="4.4"/><circle cx="853.1" cy="329.8" r="4.4"/><circle cx="870.3" cy="329.8" r="4.4"/><circle cx="887.4" cy="329.8" r="4.4"/><circle cx="904.6" cy="329.8" r="4.4"/><circle cx="921.7" cy="329.8" r="4.4"/><circle cx="938.8" cy="329.8" r="4.4"/><circle cx="956" cy="329.8" r="4.4"/><circle cx="973.1" cy="329.8" r="4.4"/><circle cx="990.2" cy="329.8" r="4.4"/><circle cx="1007.4" cy="329.8" r="4.4"/><circle cx="1024.5" cy="329.8" r="4.4"/><circle cx="1041.7" cy="329.8" r="4.4"/><circle cx="1058.8" cy="329.8" r="4.4"/><circle cx="1076" cy="329.8" r="4.4"/><circle cx="1093.1" cy="329.8" r="4.4"/><circle cx="1110.2" cy="329.8" r="4.4"/><circle cx="1127.4" cy="329.8" r="4.4"/><circle cx="1144.5" cy="329.8" r="4.4"/><circle cx="1161.7" cy="329.8" r="4.4"/><circle cx="1178.8" cy="329.8" r="4.4"/><circle cx="1195.9" cy="329.8" r="4.4"/><circle cx="1213.1" cy="329.8" r="4.4"/><circle cx="1230.2" cy="329.8" r="4.4"/><circle cx="1247.4" cy="329.8" r="4.4"/><circle cx="1264.5" cy="329.8" r="4.4"/><circle cx="1281.6" cy="329.8" r="4.4"/><circle cx="1298.8" cy="329.8" r="4.4"/><circle cx="1315.9" cy="329.8" r="4.4"/><circle cx="1333.1" cy="329.8" r="4.4"/><circle cx="1350.2" cy="329.8" r="4.4"/><circle cx="1367.3" cy="329.8" r="4.4"/><circle cx="1384.5" cy="329.8" r="4.4"/><circle cx="1401.6" cy="329.8" r="4.4"/><circle cx="1418.8" cy="329.8" r="4.4"/><circle cx="1435.9" cy="329.8" r="4.4"/><circle cx="861.7" cy="338.4" r="4.4"/><circle cx="878.8" cy="338.4" r="4.4"/><circle cx="896" cy="338.4" r="4.4"/><circle cx="913.1" cy="338.4" r="4.4"/><circle cx="930.3" cy="338.4" r="4.4"/><circle cx="947.4" cy="338.4" r="4.4"/><circle cx="964.5" cy="338.4" r="4.4"/><circle cx="981.7" cy="338.4" r="4.4"/><circle cx="998.8" cy="338.4" r="4.4"/><circle cx="1016" cy="338.4" r="4.4"/><circle cx="1033.1" cy="338.4" r="4.4"/><circle cx="1050.2" cy="338.4" r="4.4"/><circle cx="1067.4" cy="338.4" r="4.4"/><circle cx="1084.5" cy="338.4" r="4.4"/><circle cx="1101.7" cy="338.4" r="4.4"/><circle cx="1118.8" cy="338.4" r="4.4"/><circle cx="1135.9" cy="338.4" r="4.4"/><circle cx="1153.1" cy="338.4" r="4.4"/><circle cx="1170.2" cy="338.4" r="4.4"/><circle cx="1187.4" cy="338.4" r="4.4"/><circle cx="1204.5" cy="338.4" r="4.4"/><circle cx="1221.6" cy="338.4" r="4.4"/><circle cx="1238.8" cy="338.4" r="4.4"/><circle cx="1255.9" cy="338.4" r="4.4"/><circle cx="1273.1" cy="338.4" r="4.4"/><circle cx="1290.2" cy="338.4" r="4.4"/><circle cx="1307.3" cy="338.4" r="4.4"/><circle cx="1324.5" cy="338.4" r="4.4"/><circle cx="1341.6" cy="338.4" r="4.4"/><circle cx="1358.8" cy="338.4" r="4.4"/><circle cx="1375.9" cy="338.4" r="4.4"/><circle cx="1393" cy="338.4" r="4.4"/><circle cx="1410.2" cy="338.4" r="4.4"/><circle cx="1427.3" cy="338.4" r="4.4"/><circle cx="853.1" cy="347" r="4.4"/><circle cx="870.3" cy="347" r="4.4"/><circle cx="887.4" cy="347" r="4.4"/><circle cx="904.6" cy="347" r="4.4"/><circle cx="921.7" cy="347" r="4.4"/><circle cx="938.8" cy="347" r="4.4"/><circle cx="956" cy="347" r="4.4"/><circle cx="973.1" cy="347" r="4.4"/><circle cx="990.2" cy="347" r="4.4"/><circle cx="1007.4" cy="347" r="4.4"/><circle cx="1024.5" cy="347" r="4.4"/><circle cx="1041.7" cy="347" r="4.4"/><circle cx="1058.8" cy="347" r="4.4"/><circle cx="1076" cy="347" r="4.4"/><circle cx="1093.1" cy="347" r="4.4"/><circle cx="1110.2" cy="347" r="4.4"/><circle cx="1127.4" cy="347" r="4.4"/><circle cx="1144.5" cy="347" r="4.4"/><circle cx="1161.7" cy="347" r="4.4"/><circle cx="1178.8" cy="347" r="4.4"/><circle cx="1195.9" cy="347" r="4.4"/><circle cx="1213.1" cy="347" r="4.4"/><circle cx="1230.2" cy="347" r="4.4"/><circle cx="1247.4" cy="347" r="4.4"/><circle cx="1264.5" cy="347" r="4.4"/><circle cx="1281.6" cy="347" r="4.4"/><circle cx="1298.8" cy="347" r="4.4"/><circle cx="1315.9" cy="347" r="4.4"/><circle cx="1333.1" cy="347" r="4.4"/><circle cx="1350.2" cy="347" r="4.4"/><circle cx="1367.3" cy="347" r="4.4"/><circle cx="1384.5" cy="347" r="4.4"/><circle cx="1401.6" cy="347" r="4.4"/><circle cx="1418.8" cy="347" r="4.4"/><circle cx="1435.9" cy="347" r="4.4"/><circle cx="861.7" cy="355.6" r="4.4"/><circle cx="878.8" cy="355.6" r="4.4"/><circle cx="896" cy="355.6" r="4.4"/><circle cx="913.1" cy="355.6" r="4.4"/><circle cx="930.3" cy="355.6" r="4.4"/><circle cx="947.4" cy="355.6" r="4.4"/><circle cx="964.5" cy="355.6" r="4.4"/><circle cx="981.7" cy="355.6" r="4.4"/><circle cx="998.8" cy="355.6" r="4.4"/><circle cx="1016" cy="355.6" r="4.4"/><circle cx="1033.1" cy="355.6" r="4.4"/><circle cx="1050.2" cy="355.6" r="4.4"/><circle cx="1067.4" cy="355.6" r="4.4"/><circle cx="1084.5" cy="355.6" r="4.4"/><circle cx="1101.7" cy="355.6" r="4.4"/><circle cx="1118.8" cy="355.6" r="4.4"/><circle cx="1135.9" cy="355.6" r="4.4"/><circle cx="1153.1" cy="355.6" r="4.4"/><circle cx="1170.2" cy="355.6" r="4.4"/><circle cx="1187.4" cy="355.6" r="4.4"/><circle cx="1204.5" cy="355.6" r="4.4"/><circle cx="1221.6" cy="355.6" r="4.4"/><circle cx="1238.8" cy="355.6" r="4.4"/><circle cx="1255.9" cy="355.6" r="4.4"/><circle cx="1273.1" cy="355.6" r="4.4"/><circle cx="1290.2" cy="355.6" r="4.4"/><circle cx="1307.3" cy="355.6" r="4.4"/><circle cx="1324.5" cy="355.6" r="4.4"/><circle cx="1341.6" cy="355.6" r="4.4"/><circle cx="1358.8" cy="355.6" r="4.4"/><circle cx="1375.9" cy="355.6" r="4.4"/><circle cx="1393" cy="355.6" r="4.4"/><circle cx="1410.2" cy="355.6" r="4.4"/><circle cx="1427.3" cy="355.6" r="4.4"/><circle cx="853.1" cy="364.2" r="4.4"/><circle cx="870.3" cy="364.2" r="4.4"/><circle cx="887.4" cy="364.2" r="4.4"/><circle cx="904.6" cy="364.2" r="4.4"/><circle cx="921.7" cy="364.2" r="4.4"/><circle cx="938.8" cy="364.2" r="4.4"/><circle cx="956" cy="364.2" r="4.4"/><circle cx="973.1" cy="364.2" r="4.4"/><circle cx="990.2" cy="364.2" r="4.4"/><circle cx="1007.4" cy="364.2" r="4.4"/><circle cx="1024.5" cy="364.2" r="4.4"/><circle cx="1041.7" cy="364.2" r="4.4"/><circle cx="1058.8" cy="364.2" r="4.4"/><circle cx="1076" cy="364.2" r="4.4"/><circle cx="1093.1" cy="364.2" r="4.4"/><circle cx="1110.2" cy="364.2" r="4.4"/><circle cx="1127.4" cy="364.2" r="4.4"/><circle cx="1144.5" cy="364.2" r="4.4"/><circle cx="1161.7" cy="364.2" r="4.4"/><circle cx="1178.8" cy="364.2" r="4.4"/><circle cx="1195.9" cy="364.2" r="4.4"/><circle cx="1213.1" cy="364.2" r="4.4"/><circle cx="1230.2" cy="364.2" r="4.4"/><circle cx="1247.4" cy="364.2" r="4.4"/><circle cx="1264.5" cy="364.2" r="4.4"/><circle cx="1281.6" cy="364.2" r="4.4"/><circle cx="1298.8" cy="364.2" r="4.4"/><circle cx="1315.9" cy="364.2" r="4.4"/><circle cx="1333.1" cy="364.2" r="4.4"/><circle cx="1350.2" cy="364.2" r="4.4"/><circle cx="1367.3" cy="364.2" r="4.4"/><circle cx="1384.5" cy="364.2" r="4.4"/><circle cx="1401.6" cy="364.2" r="4.4"/><circle cx="1418.8" cy="364.2" r="4.4"/><circle cx="1435.9" cy="364.2" r="4.4"/><circle cx="861.7" cy="372.8" r="4.4"/><circle cx="878.8" cy="372.8" r="4.4"/><circle cx="896" cy="372.8" r="4.4"/><circle cx="913.1" cy="372.8" r="4.4"/><circle cx="930.3" cy="372.8" r="4.4"/><circle cx="947.4" cy="372.8" r="4.4"/><circle cx="964.5" cy="372.8" r="4.4"/><circle cx="981.7" cy="372.8" r="4.4"/><circle cx="998.8" cy="372.8" r="4.4"/><circle cx="1016" cy="372.8" r="4.4"/><circle cx="1033.1" cy="372.8" r="4.4"/><circle cx="1050.2" cy="372.8" r="4.4"/><circle cx="1067.4" cy="372.8" r="4.4"/><circle cx="1084.5" cy="372.8" r="4.4"/><circle cx="1101.7" cy="372.8" r="4.4"/><circle cx="1118.8" cy="372.8" r="4.4"/><circle cx="1135.9" cy="372.8" r="4.4"/><circle cx="1153.1" cy="372.8" r="4.4"/><circle cx="1170.2" cy="372.8" r="4.4"/><circle cx="1187.4" cy="372.8" r="4.4"/><circle cx="1204.5" cy="372.8" r="4.4"/><circle cx="1221.6" cy="372.8" r="4.4"/><circle cx="1238.8" cy="372.8" r="4.4"/><circle cx="1255.9" cy="372.8" r="4.4"/><circle cx="1273.1" cy="372.8" r="4.4"/><circle cx="1290.2" cy="372.8" r="4.4"/><circle cx="1307.3" cy="372.8" r="4.4"/><circle cx="1324.5" cy="372.8" r="4.4"/><circle cx="1341.6" cy="372.8" r="4.4"/><circle cx="1358.8" cy="372.8" r="4.4"/><circle cx="1375.9" cy="372.8" r="4.4"/><circle cx="1393" cy="372.8" r="4.4"/><circle cx="1410.2" cy="372.8" r="4.4"/><circle cx="1427.3" cy="372.8" r="4.4"/><circle cx="853.1" cy="381.4" r="4.4"/><circle cx="870.3" cy="381.4" r="4.4"/><circle cx="887.4" cy="381.4" r="4.4"/><circle cx="904.6" cy="381.4" r="4.4"/><circle cx="921.7" cy="381.4" r="4.4"/><circle cx="938.8" cy="381.4" r="4.4"/><circle cx="956" cy="381.4" r="4.4"/><circle cx="973.1" cy="381.4" r="4.4"/><circle cx="990.2" cy="381.4" r="4.4"/><circle cx="1007.4" cy="381.4" r="4.4"/><circle cx="1024.5" cy="381.4" r="4.4"/><circle cx="1041.7" cy="381.4" r="4.4"/><circle cx="1058.8" cy="381.4" r="4.4"/><circle cx="1076" cy="381.4" r="4.4"/><circle cx="1093.1" cy="381.4" r="4.4"/><circle cx="1110.2" cy="381.4" r="4.4"/><circle cx="1127.4" cy="381.4" r="4.4"/><circle cx="1144.5" cy="381.4" r="4.4"/><circle cx="1161.7" cy="381.4" r="4.4"/><circle cx="1178.8" cy="381.4" r="4.4"/><circle cx="1195.9" cy="381.4" r="4.4"/><circle cx="1213.1" cy="381.4" r="4.4"/><circle cx="1230.2" cy="381.4" r="4.4"/><circle cx="1247.4" cy="381.4" r="4.4"/><circle cx="1264.5" cy="381.4" r="4.4"/><circle cx="1281.6" cy="381.4" r="4.4"/><circle cx="1298.8" cy="381.4" r="4.4"/><circle cx="1315.9" cy="381.4" r="4.4"/><circle cx="1333.1" cy="381.4" r="4.4"/><circle cx="1350.2" cy="381.4" r="4.4"/><circle cx="1367.3" cy="381.4" r="4.4"/><circle cx="1384.5" cy="381.4" r="4.4"/><circle cx="1401.6" cy="381.4" r="4.4"/><circle cx="1418.8" cy="381.4" r="4.4"/><circle cx="1435.9" cy="381.4" r="4.4"/><circle cx="861.7" cy="390" r="4.4"/><circle cx="878.8" cy="390" r="4.4"/><circle cx="896" cy="390" r="4.4"/><circle cx="913.1" cy="390" r="4.4"/><circle cx="930.3" cy="390" r="4.4"/><circle cx="947.4" cy="390" r="4.4"/><circle cx="964.5" cy="390" r="4.4"/><circle cx="981.7" cy="390" r="4.4"/><circle cx="998.8" cy="390" r="4.4"/><circle cx="1016" cy="390" r="4.4"/><circle cx="1033.1" cy="390" r="4.4"/><circle cx="1050.2" cy="390" r="4.4"/><circle cx="1067.4" cy="390" r="4.4"/><circle cx="1084.5" cy="390" r="4.4"/><circle cx="1101.7" cy="390" r="4.4"/><circle cx="1118.8" cy="390" r="4.4"/><circle cx="1135.9" cy="390" r="4.4"/><circle cx="1153.1" cy="390" r="4.4"/><circle cx="1170.2" cy="390" r="4.4"/><circle cx="1187.4" cy="390" r="4.4"/><circle cx="1204.5" cy="390" r="4.4"/><circle cx="1221.6" cy="390" r="4.4"/><circle cx="1238.8" cy="390" r="4.4"/><circle cx="1255.9" cy="390" r="4.4"/><circle cx="1273.1" cy="390" r="4.4"/><circle cx="1290.2" cy="390" r="4.4"/><circle cx="1307.3" cy="390" r="4.4"/><circle cx="1324.5" cy="390" r="4.4"/><circle cx="1341.6" cy="390" r="4.4"/><circle cx="1358.8" cy="390" r="4.4"/><circle cx="1375.9" cy="390" r="4.4"/><circle cx="1393" cy="390" r="4.4"/><circle cx="1410.2" cy="390" r="4.4"/><circle cx="1427.3" cy="390" r="4.4"/><circle cx="853.1" cy="398.6" r="4.4"/><circle cx="870.3" cy="398.6" r="4.4"/><circle cx="887.4" cy="398.6" r="4.4"/><circle cx="904.6" cy="398.6" r="4.4"/><circle cx="921.7" cy="398.6" r="4.4"/><circle cx="938.8" cy="398.6" r="4.4"/><circle cx="956" cy="398.6" r="4.4"/><circle cx="973.1" cy="398.6" r="4.4"/><circle cx="990.2" cy="398.6" r="4.4"/><circle cx="1007.4" cy="398.6" r="4.4"/><circle cx="1024.5" cy="398.6" r="4.4"/><circle cx="1041.7" cy="398.6" r="4.4"/><circle cx="1058.8" cy="398.6" r="4.4"/><circle cx="1076" cy="398.6" r="4.4"/><circle cx="1093.1" cy="398.6" r="4.4"/><circle cx="1110.2" cy="398.6" r="4.4"/><circle cx="1127.4" cy="398.6" r="4.4"/><circle cx="1144.5" cy="398.6" r="4.4"/><circle cx="1161.7" cy="398.6" r="4.4"/><circle cx="1178.8" cy="398.6" r="4.4"/><circle cx="1195.9" cy="398.6" r="4.4"/><circle cx="1213.1" cy="398.6" r="4.4"/><circle cx="1230.2" cy="398.6" r="4.4"/><circle cx="1247.4" cy="398.6" r="4.4"/><circle cx="1264.5" cy="398.6" r="4.4"/><circle cx="1281.6" cy="398.6" r="4.4"/><circle cx="1298.8" cy="398.6" r="4.4"/><circle cx="1315.9" cy="398.6" r="4.4"/><circle cx="1333.1" cy="398.6" r="4.4"/><circle cx="1350.2" cy="398.6" r="4.4"/><circle cx="1367.3" cy="398.6" r="4.4"/><circle cx="1384.5" cy="398.6" r="4.4"/><circle cx="1401.6" cy="398.6" r="4.4"/><circle cx="1418.8" cy="398.6" r="4.4"/><circle cx="1435.9" cy="398.6" r="4.4"/><circle cx="861.7" cy="407.2" r="4.4"/><circle cx="878.8" cy="407.2" r="4.4"/><circle cx="896" cy="407.2" r="4.4"/><circle cx="913.1" cy="407.2" r="4.4"/><circle cx="930.3" cy="407.2" r="4.4"/><circle cx="947.4" cy="407.2" r="4.4"/><circle cx="964.5" cy="407.2" r="4.4"/><circle cx="981.7" cy="407.2" r="4.4"/><circle cx="998.8" cy="407.2" r="4.4"/><circle cx="1016" cy="407.2" r="4.4"/><circle cx="1033.1" cy="407.2" r="4.4"/><circle cx="1050.2" cy="407.2" r="4.4"/><circle cx="1067.4" cy="407.2" r="4.4"/><circle cx="1084.5" cy="407.2" r="4.4"/><circle cx="1101.7" cy="407.2" r="4.4"/><circle cx="1118.8" cy="407.2" r="4.4"/><circle cx="1135.9" cy="407.2" r="4.4"/><circle cx="1153.1" cy="407.2" r="4.4"/><circle cx="1170.2" cy="407.2" r="4.4"/><circle cx="1187.4" cy="407.2" r="4.4"/><circle cx="1204.5" cy="407.2" r="4.4"/><circle cx="1221.6" cy="407.2" r="4.4"/><circle cx="1238.8" cy="407.2" r="4.4"/><circle cx="1255.9" cy="407.2" r="4.4"/><circle cx="1273.1" cy="407.2" r="4.4"/><circle cx="1290.2" cy="407.2" r="4.4"/><circle cx="1307.3" cy="407.2" r="4.4"/><circle cx="1324.5" cy="407.2" r="4.4"/><circle cx="1341.6" cy="407.2" r="4.4"/><circle cx="1358.8" cy="407.2" r="4.4"/><circle cx="1375.9" cy="407.2" r="4.4"/><circle cx="1393" cy="407.2" r="4.4"/><circle cx="1410.2" cy="407.2" r="4.4"/><circle cx="1427.3" cy="407.2" r="4.4"/><circle cx="853.1" cy="415.8" r="4.4"/><circle cx="870.3" cy="415.8" r="4.4"/><circle cx="887.4" cy="415.8" r="4.4"/><circle cx="904.6" cy="415.8" r="4.4"/><circle cx="921.7" cy="415.8" r="4.4"/><circle cx="938.8" cy="415.8" r="4.4"/><circle cx="956" cy="415.8" r="4.4"/><circle cx="973.1" cy="415.8" r="4.4"/><circle cx="990.2" cy="415.8" r="4.4"/><circle cx="1007.4" cy="415.8" r="4.4"/><circle cx="1024.5" cy="415.8" r="4.4"/><circle cx="1041.7" cy="415.8" r="4.4"/><circle cx="1058.8" cy="415.8" r="4.4"/><circle cx="1076" cy="415.8" r="4.4"/><circle cx="1093.1" cy="415.8" r="4.4"/><circle cx="1110.2" cy="415.8" r="4.4"/><circle cx="1127.4" cy="415.8" r="4.4"/><circle cx="1144.5" cy="415.8" r="4.4"/><circle cx="1161.7" cy="415.8" r="4.4"/><circle cx="1178.8" cy="415.8" r="4.4"/><circle cx="1195.9" cy="415.8" r="4.4"/><circle cx="1213.1" cy="415.8" r="4.4"/><circle cx="1230.2" cy="415.8" r="4.4"/><circle cx="1247.4" cy="415.8" r="4.4"/><circle cx="1264.5" cy="415.8" r="4.4"/><circle cx="1281.6" cy="415.8" r="4.4"/><circle cx="1298.8" cy="415.8" r="4.4"/><circle cx="1315.9" cy="415.8" r="4.4"/><circle cx="1333.1" cy="415.8" r="4.4"/><circle cx="1350.2" cy="415.8" r="4.4"/><circle cx="1367.3" cy="415.8" r="4.4"/><circle cx="1384.5" cy="415.8" r="4.4"/><circle cx="1401.6" cy="415.8" r="4.4"/><circle cx="1418.8" cy="415.8" r="4.4"/><circle cx="1435.9" cy="415.8" r="4.4"/><circle cx="861.7" cy="424.4" r="4.4"/><circle cx="878.8" cy="424.4" r="4.4"/><circle cx="896" cy="424.4" r="4.4"/><circle cx="913.1" cy="424.4" r="4.4"/><circle cx="930.3" cy="424.4" r="4.4"/><circle cx="947.4" cy="424.4" r="4.4"/><circle cx="964.5" cy="424.4" r="4.4"/><circle cx="981.7" cy="424.4" r="4.4"/><circle cx="998.8" cy="424.4" r="4.4"/><circle cx="1016" cy="424.4" r="4.4"/><circle cx="1033.1" cy="424.4" r="4.4"/><circle cx="1050.2" cy="424.4" r="4.4"/><circle cx="1067.4" cy="424.4" r="4.4"/><circle cx="1084.5" cy="424.4" r="4.4"/><circle cx="1101.7" cy="424.4" r="4.4"/><circle cx="1118.8" cy="424.4" r="4.4"/><circle cx="1135.9" cy="424.4" r="4.4"/><circle cx="1153.1" cy="424.4" r="4.4"/><circle cx="1170.2" cy="424.4" r="4.4"/><circle cx="1187.4" cy="424.4" r="4.4"/><circle cx="1204.5" cy="424.4" r="4.4"/><circle cx="1221.6" cy="424.4" r="4.4"/><circle cx="1238.8" cy="424.4" r="4.4"/><circle cx="1255.9" cy="424.4" r="4.4"/><circle cx="1273.1" cy="424.4" r="4.4"/><circle cx="1290.2" cy="424.4" r="4.4"/><circle cx="1307.3" cy="424.4" r="4.4"/><circle cx="1324.5" cy="424.4" r="4.4"/><circle cx="1341.6" cy="424.4" r="4.4"/><circle cx="1358.8" cy="424.4" r="4.4"/><circle cx="1375.9" cy="424.4" r="4.4"/><circle cx="1393" cy="424.4" r="4.4"/><circle cx="1410.2" cy="424.4" r="4.4"/><circle cx="1427.3" cy="424.4" r="4.4"/><circle cx="853.1" cy="433" r="4.4"/><circle cx="870.3" cy="433" r="4.4"/><circle cx="887.4" cy="433" r="4.4"/><circle cx="904.6" cy="433" r="4.4"/><circle cx="921.7" cy="433" r="4.4"/><circle cx="938.8" cy="433" r="4.4"/><circle cx="956" cy="433" r="4.4"/><circle cx="973.1" cy="433" r="4.4"/><circle cx="990.2" cy="433" r="4.4"/><circle cx="1007.4" cy="433" r="4.4"/><circle cx="1024.5" cy="433" r="4.4"/><circle cx="1041.7" cy="433" r="4.4"/><circle cx="1058.8" cy="433" r="4.4"/><circle cx="1076" cy="433" r="4.4"/><circle cx="1093.1" cy="433" r="4.4"/><circle cx="1110.2" cy="433" r="4.4"/><circle cx="1127.4" cy="433" r="4.4"/><circle cx="1144.5" cy="433" r="4.4"/><circle cx="1161.7" cy="433" r="4.4"/><circle cx="1178.8" cy="433" r="4.4"/><circle cx="1195.9" cy="433" r="4.4"/><circle cx="1213.1" cy="433" r="4.4"/><circle cx="1230.2" cy="433" r="4.4"/><circle cx="1247.4" cy="433" r="4.4"/><circle cx="1264.5" cy="433" r="4.4"/><circle cx="1281.6" cy="433" r="4.4"/><circle cx="1298.8" cy="433" r="4.4"/><circle cx="1315.9" cy="433" r="4.4"/><circle cx="1333.1" cy="433" r="4.4"/><circle cx="1350.2" cy="433" r="4.4"/><circle cx="1367.3" cy="433" r="4.4"/><circle cx="1384.5" cy="433" r="4.4"/><circle cx="1401.6" cy="433" r="4.4"/><circle cx="1418.8" cy="433" r="4.4"/><circle cx="1435.9" cy="433" r="4.4"/><circle cx="861.7" cy="441.6" r="4.4"/><circle cx="878.8" cy="441.6" r="4.4"/><circle cx="896" cy="441.6" r="4.4"/><circle cx="913.1" cy="441.6" r="4.4"/><circle cx="930.3" cy="441.6" r="4.4"/><circle cx="947.4" cy="441.6" r="4.4"/><circle cx="964.5" cy="441.6" r="4.4"/><circle cx="981.7" cy="441.6" r="4.4"/><circle cx="998.8" cy="441.6" r="4.4"/><circle cx="1016" cy="441.6" r="4.4"/><circle cx="1033.1" cy="441.6" r="4.4"/><circle cx="1050.2" cy="441.6" r="4.4"/><circle cx="1067.4" cy="441.6" r="4.4"/><circle cx="1084.5" cy="441.6" r="4.4"/><circle cx="1101.7" cy="441.6" r="4.4"/><circle cx="1118.8" cy="441.6" r="4.4"/><circle cx="1135.9" cy="441.6" r="4.4"/><circle cx="1153.1" cy="441.6" r="4.4"/><circle cx="1170.2" cy="441.6" r="4.4"/><circle cx="1187.4" cy="441.6" r="4.4"/><circle cx="1204.5" cy="441.6" r="4.4"/><circle cx="1221.6" cy="441.6" r="4.4"/><circle cx="1238.8" cy="441.6" r="4.4"/><circle cx="1255.9" cy="441.6" r="4.4"/><circle cx="1273.1" cy="441.6" r="4.4"/><circle cx="1290.2" cy="441.6" r="4.4"/><circle cx="1307.3" cy="441.6" r="4.4"/><circle cx="1324.5" cy="441.6" r="4.4"/><circle cx="1341.6" cy="441.6" r="4.4"/><circle cx="1358.8" cy="441.6" r="4.4"/><circle cx="1375.9" cy="441.6" r="4.4"/><circle cx="1393" cy="441.6" r="4.4"/><circle cx="1410.2" cy="441.6" r="4.4"/><circle cx="1427.3" cy="441.6" r="4.4"/><circle cx="853.1" cy="450.2" r="4.4"/><circle cx="870.3" cy="450.2" r="4.4"/><circle cx="887.4" cy="450.2" r="4.4"/><circle cx="904.6" cy="450.2" r="4.4"/><circle cx="921.7" cy="450.2" r="4.4"/><circle cx="938.8" cy="450.2" r="4.4"/><circle cx="956" cy="450.2" r="4.4"/><circle cx="973.1" cy="450.2" r="4.4"/><circle cx="990.2" cy="450.2" r="4.4"/><circle cx="1007.4" cy="450.2" r="4.4"/><circle cx="1024.5" cy="450.2" r="4.4"/><circle cx="1041.7" cy="450.2" r="4.4"/><circle cx="1058.8" cy="450.2" r="4.4"/><circle cx="1076" cy="450.2" r="4.4"/><circle cx="1093.1" cy="450.2" r="4.4"/><circle cx="1110.2" cy="450.2" r="4.4"/><circle cx="1127.4" cy="450.2" r="4.4"/><circle cx="1144.5" cy="450.2" r="4.4"/><circle cx="1161.7" cy="450.2" r="4.4"/><circle cx="1178.8" cy="450.2" r="4.4"/><circle cx="1195.9" cy="450.2" r="4.4"/><circle cx="1213.1" cy="450.2" r="4.4"/><circle cx="1230.2" cy="450.2" r="4.4"/><circle cx="1247.4" cy="450.2" r="4.4"/><circle cx="1264.5" cy="450.2" r="4.4"/><circle cx="1281.6" cy="450.2" r="4.4"/><circle cx="1298.8" cy="450.2" r="4.4"/><circle cx="1315.9" cy="450.2" r="4.4"/><circle cx="1333.1" cy="450.2" r="4.4"/><circle cx="1350.2" cy="450.2" r="4.4"/><circle cx="1367.3" cy="450.2" r="4.4"/><circle cx="1384.5" cy="450.2" r="4.4"/><circle cx="1401.6" cy="450.2" r="4.4"/><circle cx="1418.8" cy="450.2" r="4.4"/><circle cx="1435.9" cy="450.2" r="4.4"/><circle cx="861.7" cy="458.8" r="4.4"/><circle cx="878.8" cy="458.8" r="4.4"/><circle cx="896" cy="458.8" r="4.4"/><circle cx="913.1" cy="458.8" r="4.4"/><circle cx="930.3" cy="458.8" r="4.4"/><circle cx="947.4" cy="458.8" r="4.4"/><circle cx="964.5" cy="458.8" r="4.4"/><circle cx="981.7" cy="458.8" r="4.4"/><circle cx="998.8" cy="458.8" r="4.4"/><circle cx="1016" cy="458.8" r="4.4"/><circle cx="1033.1" cy="458.8" r="4.4"/><circle cx="1050.2" cy="458.8" r="4.4"/><circle cx="1067.4" cy="458.8" r="4.4"/><circle cx="1084.5" cy="458.8" r="4.4"/><circle cx="1101.7" cy="458.8" r="4.4"/><circle cx="1118.8" cy="458.8" r="4.4"/><circle cx="1135.9" cy="458.8" r="4.4"/><circle cx="1153.1" cy="458.8" r="4.4"/><circle cx="1170.2" cy="458.8" r="4.4"/><circle cx="1187.4" cy="458.8" r="4.4"/><circle cx="1204.5" cy="458.8" r="4.4"/><circle cx="1221.6" cy="458.8" r="4.4"/><circle cx="1238.8" cy="458.8" r="4.4"/><circle cx="1255.9" cy="458.8" r="4.4"/><circle cx="1273.1" cy="458.8" r="4.4"/><circle cx="1290.2" cy="458.8" r="4.4"/><circle cx="1307.3" cy="458.8" r="4.4"/><circle cx="1324.5" cy="458.8" r="4.4"/><circle cx="1341.6" cy="458.8" r="4.4"/><circle cx="1358.8" cy="458.8" r="4.4"/><circle cx="1375.9" cy="458.8" r="4.4"/><circle cx="1393" cy="458.8" r="4.4"/><circle cx="1410.2" cy="458.8" r="4.4"/><circle cx="1427.3" cy="458.8" r="4.4"/><circle cx="853.1" cy="467.4" r="4.4"/><circle cx="870.3" cy="467.4" r="4.4"/><circle cx="887.4" cy="467.4" r="4.4"/><circle cx="904.6" cy="467.4" r="4.4"/><circle cx="921.7" cy="467.4" r="4.4"/><circle cx="938.8" cy="467.4" r="4.4"/><circle cx="956" cy="467.4" r="4.4"/><circle cx="973.1" cy="467.4" r="4.4"/><circle cx="990.2" cy="467.4" r="4.4"/><circle cx="1007.4" cy="467.4" r="4.4"/><circle cx="1024.5" cy="467.4" r="4.4"/><circle cx="1041.7" cy="467.4" r="4.4"/><circle cx="1058.8" cy="467.4" r="4.4"/><circle cx="1076" cy="467.4" r="4.4"/><circle cx="1093.1" cy="467.4" r="4.4"/><circle cx="1110.2" cy="467.4" r="4.4"/><circle cx="1127.4" cy="467.4" r="4.4"/><circle cx="1144.5" cy="467.4" r="4.4"/><circle cx="1161.7" cy="467.4" r="4.4"/><circle cx="1178.8" cy="467.4" r="4.4"/><circle cx="1195.9" cy="467.4" r="4.4"/><circle cx="1213.1" cy="467.4" r="4.4"/><circle cx="1230.2" cy="467.4" r="4.4"/><circle cx="1247.4" cy="467.4" r="4.4"/><circle cx="1264.5" cy="467.4" r="4.4"/><circle cx="1281.6" cy="467.4" r="4.4"/><circle cx="1298.8" cy="467.4" r="4.4"/><circle cx="1315.9" cy="467.4" r="4.4"/><circle cx="1333.1" cy="467.4" r="4.4"/><circle cx="1350.2" cy="467.4" r="4.4"/><circle cx="1367.3" cy="467.4" r="4.4"/><circle cx="1384.5" cy="467.4" r="4.4"/><circle cx="1401.6" cy="467.4" r="4.4"/><circle cx="1418.8" cy="467.4" r="4.4"/><circle cx="1435.9" cy="467.4" r="4.4"/><circle cx="861.7" cy="476" r="4.4"/><circle cx="878.8" cy="476" r="4.4"/><circle cx="896" cy="476" r="4.4"/><circle cx="913.1" cy="476" r="4.4"/><circle cx="930.3" cy="476" r="4.4"/><circle cx="947.4" cy="476" r="4.4"/><circle cx="964.5" cy="476" r="4.4"/><circle cx="981.7" cy="476" r="4.4"/><circle cx="998.8" cy="476" r="4.4"/><circle cx="1016" cy="476" r="4.4"/><circle cx="1033.1" cy="476" r="4.4"/><circle cx="1050.2" cy="476" r="4.4"/><circle cx="1067.4" cy="476" r="4.4"/><circle cx="1084.5" cy="476" r="4.4"/><circle cx="1101.7" cy="476" r="4.4"/><circle cx="1118.8" cy="476" r="4.4"/><circle cx="1135.9" cy="476" r="4.4"/><circle cx="1153.1" cy="476" r="4.4"/><circle cx="1170.2" cy="476" r="4.4"/><circle cx="1187.4" cy="476" r="4.4"/><circle cx="1204.5" cy="476" r="4.4"/><circle cx="1221.6" cy="476" r="4.4"/><circle cx="1238.8" cy="476" r="4.4"/><circle cx="1255.9" cy="476" r="4.4"/><circle cx="1273.1" cy="476" r="4.4"/><circle cx="1290.2" cy="476" r="4.4"/><circle cx="1307.3" cy="476" r="4.4"/><circle cx="1324.5" cy="476" r="4.4"/><circle cx="1341.6" cy="476" r="4.4"/><circle cx="1358.8" cy="476" r="4.4"/><circle cx="1375.9" cy="476" r="4.4"/><circle cx="1393" cy="476" r="4.4"/><circle cx="1410.2" cy="476" r="4.4"/><circle cx="1427.3" cy="476" r="4.4"/><circle cx="853.1" cy="484.6" r="4.4"/><circle cx="870.3" cy="484.6" r="4.4"/><circle cx="887.4" cy="484.6" r="4.4"/><circle cx="904.6" cy="484.6" r="4.4"/><circle cx="921.7" cy="484.6" r="4.4"/><circle cx="938.8" cy="484.6" r="4.4"/><circle cx="956" cy="484.6" r="4.4"/><circle cx="973.1" cy="484.6" r="4.4"/><circle cx="990.2" cy="484.6" r="4.4"/><circle cx="1007.4" cy="484.6" r="4.4"/><circle cx="1024.5" cy="484.6" r="4.4"/><circle cx="1041.7" cy="484.6" r="4.4"/><circle cx="1058.8" cy="484.6" r="4.4"/><circle cx="1076" cy="484.6" r="4.4"/><circle cx="1093.1" cy="484.6" r="4.4"/><circle cx="1110.2" cy="484.6" r="4.4"/><circle cx="1127.4" cy="484.6" r="4.4"/><circle cx="1144.5" cy="484.6" r="4.4"/><circle cx="1161.7" cy="484.6" r="4.4"/><circle cx="1178.8" cy="484.6" r="4.4"/><circle cx="1195.9" cy="484.6" r="4.4"/><circle cx="1213.1" cy="484.6" r="4.4"/><circle cx="1230.2" cy="484.6" r="4.4"/><circle cx="1247.4" cy="484.6" r="4.4"/><circle cx="1264.5" cy="484.6" r="4.4"/><circle cx="1281.6" cy="484.6" r="4.4"/><circle cx="1298.8" cy="484.6" r="4.4"/><circle cx="1315.9" cy="484.6" r="4.4"/><circle cx="1333.1" cy="484.6" r="4.4"/><circle cx="1350.2" cy="484.6" r="4.4"/><circle cx="1367.3" cy="484.6" r="4.4"/><circle cx="1384.5" cy="484.6" r="4.4"/><circle cx="1401.6" cy="484.6" r="4.4"/><circle cx="1418.8" cy="484.6" r="4.4"/><circle cx="1435.9" cy="484.6" r="4.4"/><circle cx="861.7" cy="493.2" r="4.4"/><circle cx="878.8" cy="493.2" r="4.4"/><circle cx="896" cy="493.2" r="4.4"/><circle cx="913.1" cy="493.2" r="4.4"/><circle cx="930.3" cy="493.2" r="4.4"/><circle cx="947.4" cy="493.2" r="4.4"/><circle cx="964.5" cy="493.2" r="4.4"/><circle cx="981.7" cy="493.2" r="4.4"/><circle cx="998.8" cy="493.2" r="4.4"/><circle cx="1016" cy="493.2" r="4.4"/><circle cx="1033.1" cy="493.2" r="4.4"/><circle cx="1050.2" cy="493.2" r="4.4"/><circle cx="1067.4" cy="493.2" r="4.4"/><circle cx="1084.5" cy="493.2" r="4.4"/><circle cx="1101.7" cy="493.2" r="4.4"/><circle cx="1118.8" cy="493.2" r="4.4"/><circle cx="1135.9" cy="493.2" r="4.4"/><circle cx="1153.1" cy="493.2" r="4.4"/><circle cx="1170.2" cy="493.2" r="4.4"/><circle cx="1187.4" cy="493.2" r="4.4"/><circle cx="1204.5" cy="493.2" r="4.4"/><circle cx="1221.6" cy="493.2" r="4.4"/><circle cx="1238.8" cy="493.2" r="4.4"/><circle cx="1255.9" cy="493.2" r="4.4"/><circle cx="1273.1" cy="493.2" r="4.4"/><circle cx="1290.2" cy="493.2" r="4.4"/><circle cx="1307.3" cy="493.2" r="4.4"/><circle cx="1324.5" cy="493.2" r="4.4"/><circle cx="1341.6" cy="493.2" r="4.4"/><circle cx="1358.8" cy="493.2" r="4.4"/><circle cx="1375.9" cy="493.2" r="4.4"/><circle cx="1393" cy="493.2" r="4.4"/><circle cx="1410.2" cy="493.2" r="4.4"/><circle cx="1427.3" cy="493.2" r="4.4"/><circle cx="853.1" cy="501.8" r="4.4"/><circle cx="870.3" cy="501.8" r="4.4"/><circle cx="887.4" cy="501.8" r="4.4"/><circle cx="904.6" cy="501.8" r="4.4"/><circle cx="921.7" cy="501.8" r="4.4"/><circle cx="938.8" cy="501.8" r="4.4"/><circle cx="956" cy="501.8" r="4.4"/><circle cx="973.1" cy="501.8" r="4.4"/><circle cx="990.2" cy="501.8" r="4.4"/><circle cx="1007.4" cy="501.8" r="4.4"/><circle cx="1024.5" cy="501.8" r="4.4"/><circle cx="1041.7" cy="501.8" r="4.4"/><circle cx="1058.8" cy="501.8" r="4.4"/><circle cx="1076" cy="501.8" r="4.4"/><circle cx="1093.1" cy="501.8" r="4.4"/><circle cx="1110.2" cy="501.8" r="4.4"/><circle cx="1127.4" cy="501.8" r="4.4"/><circle cx="1144.5" cy="501.8" r="4.4"/><circle cx="1161.7" cy="501.8" r="4.4"/><circle cx="1178.8" cy="501.8" r="4.4"/><circle cx="1195.9" cy="501.8" r="4.4"/><circle cx="1213.1" cy="501.8" r="4.4"/><circle cx="1230.2" cy="501.8" r="4.4"/><circle cx="1247.4" cy="501.8" r="4.4"/><circle cx="1264.5" cy="501.8" r="4.4"/><circle cx="1281.6" cy="501.8" r="4.4"/><circle cx="1298.8" cy="501.8" r="4.4"/><circle cx="1315.9" cy="501.8" r="4.4"/><circle cx="1333.1" cy="501.8" r="4.4"/><circle cx="1350.2" cy="501.8" r="4.4"/><circle cx="1367.3" cy="501.8" r="4.4"/><circle cx="1384.5" cy="501.8" r="4.4"/><circle cx="1401.6" cy="501.8" r="4.4"/><circle cx="1418.8" cy="501.8" r="4.4"/><circle cx="1435.9" cy="501.8" r="4.4"/></g></g>
<polygon points="483.5,128.8 1212.3,128.8 1431.2,200.6 1431.2,342.2 1293.7,405.2 1183,469 1140.9,501.3 1080.5,501.3 853,405.3 722,486 701.4,501.3 640.9,501.3 411.5,404.4 403.5,404.4 403.5,202" fill="none" stroke="#161616" stroke-width="2.0" stroke-linejoin="miter"/>
<line x1="853.0" y1="128.8" x2="853.0" y2="405.3" stroke="#161616" stroke-width="2.0"/>
<line x1="403.5" y1="404" x2="403.5" y2="468.6" stroke="#161616" stroke-width="2.0"/>
<path d="M403.5,418.9 L405.5,421.1 L407.5,423.1 L409.5,425.1 L411.5,427 L413.5,428.8 L415.5,430.5 L417.5,432.2 L419.5,433.8 L421.5,435.3 L423.5,436.8 L425.5,438.3 L427.5,439.6 L429.5,441 L431.5,442.2 L433.5,443.5 L435.6,444.7 L437.6,445.9 L439.6,447 L441.6,448.1 L443.6,449.2 L445.6,450.2 L447.6,451.3 L449.6,452.3 L451.6,453.3 L453.6,454.3 L455.6,455.2 L457.6,456.2 L459.6,457.1 L461.6,458.1 L463.6,459 L465.6,459.9 L467.6,460.8 L469.6,461.7 L471.6,462.6 L473.6,463.4 L475.6,464.3 L477.6,465.1 L479.6,465.9 L481.6,466.8 L483.6,467.6 L485.6,468.3 L487.6,469.1 L489.6,469.9 L491.6,470.6 L493.6,471.4 L495.6,472.1 L497.7,472.8 L499.7,473.5 L501.7,474.2 L503.7,474.9 L505.7,475.6 L507.7,476.3 L509.7,477 L511.7,477.6 L513.7,478.3 L515.7,478.9 L517.7,479.6 L519.7,480.2 L521.7,480.8 L523.7,481.4 L525.7,482.1 L527.7,482.7 L529.7,483.3 L531.7,483.9 L533.7,484.5 L535.7,485 L537.7,485.6 L539.7,486.2 L541.7,486.8 L543.7,487.4 L545.7,487.9 L547.7,488.5 L549.7,489.1 L551.7,489.6 L553.7,490.2 L555.7,490.8 L557.7,491.3 L559.7,491.9 L561.8,492.5 L563.8,493 L565.8,493.6 L567.8,494.1 L569.8,494.7 L571.8,495.3 L573.8,495.8 L575.8,496.4 L577.8,497 L579.8,497.5 L581.8,498.1 L583.8,498.6 L585.8,499.2 L587.8,499.7 L589.8,500.3 L591.8,500.8 L593.8,501.3 L595.8,501.9 L597.8,502.4 L599.8,502.9 L601.8,503.4 L603.8,503.9 L605.8,504.4 L607.8,504.9 L609.8,505.4 L611.8,505.8 L613.8,506.3 L615.8,506.8 L617.8,507.2 L619.8,507.6 L621.8,508.1 L623.9,508.5 L625.9,508.9 L627.9,509.3 L629.9,509.7 L631.9,510 L633.9,510.4 L635.9,510.7 L637.9,511.1 L639.9,511.4 L641.9,511.7 L643.9,512 L645.9,512.2 L647.9,512.5 L649.9,512.7 L651.9,513 L653.9,513.2 L653.9,542.9 L651.9,542.6 L649.9,542.3 L647.9,542 L645.9,541.7 L643.9,541.3 L641.9,541 L639.9,540.7 L637.9,540.4 L635.9,540 L633.9,539.7 L631.9,539.3 L629.9,539 L627.9,538.6 L625.9,538.3 L623.9,537.9 L621.8,537.6 L619.8,537.2 L617.8,536.8 L615.8,536.5 L613.8,536.1 L611.8,535.7 L609.8,535.3 L607.8,534.9 L605.8,534.5 L603.8,534.1 L601.8,533.7 L599.8,533.3 L597.8,532.9 L595.8,532.5 L593.8,532 L591.8,531.6 L589.8,531.2 L587.8,530.7 L585.8,530.3 L583.8,529.8 L581.8,529.4 L579.8,528.9 L577.8,528.4 L575.8,528 L573.8,527.5 L571.8,527 L569.8,526.5 L567.8,526 L565.8,525.5 L563.8,525 L561.8,524.5 L559.7,524 L557.7,523.5 L555.7,522.9 L553.7,522.4 L551.7,521.8 L549.7,521.3 L547.7,520.7 L545.7,520.2 L543.7,519.6 L541.7,519 L539.7,518.5 L537.7,517.9 L535.7,517.3 L533.7,516.7 L531.7,516.1 L529.7,515.5 L527.7,514.9 L525.7,514.2 L523.7,513.6 L521.7,513 L519.7,512.3 L517.7,511.7 L515.7,511 L513.7,510.3 L511.7,509.6 L509.7,509 L507.7,508.3 L505.7,507.6 L503.7,506.9 L501.7,506.2 L499.7,505.4 L497.7,504.7 L495.6,504 L493.6,503.2 L491.6,502.5 L489.6,501.7 L487.6,501 L485.6,500.2 L483.6,499.4 L481.6,498.6 L479.6,497.8 L477.6,497 L475.6,496.2 L473.6,495.4 L471.6,494.6 L469.6,493.7 L467.6,492.9 L465.6,492 L463.6,491.2 L461.6,490.3 L459.6,489.4 L457.6,488.5 L455.6,487.6 L453.6,486.7 L451.6,485.8 L449.6,484.9 L447.6,483.9 L445.6,483 L443.6,482 L441.6,481.1 L439.6,480.1 L437.6,479.1 L435.6,478.1 L433.5,477.1 L431.5,476.1 L429.5,475.1 L427.5,474.1 L425.5,473.1 L423.5,472 L421.5,471 L419.5,469.9 L417.5,468.8 L415.5,467.7 L413.5,466.6 L411.5,465.5 L409.5,464.4 L407.5,463.3 L405.5,462.2 L403.5,461 Z" fill="#ebebeb" stroke="#161616" stroke-width="2.0"/>
<g clip-path="url(#cs)"><rect x="680" y="440" width="420" height="110" fill="#e1eef2"/><g fill="#0aa6d8"><circle cx="679.4" cy="430.7" r="4.5"/><circle cx="696.6" cy="430.7" r="4.5"/><circle cx="713.7" cy="430.7" r="4.5"/><circle cx="730.8" cy="430.7" r="4.5"/><circle cx="748" cy="430.7" r="4.5"/><circle cx="765.1" cy="430.7" r="4.5"/><circle cx="782.3" cy="430.7" r="4.5"/><circle cx="799.4" cy="430.7" r="4.5"/><circle cx="816.5" cy="430.7" r="4.5"/><circle cx="833.7" cy="430.7" r="4.5"/><circle cx="850.8" cy="430.7" r="4.5"/><circle cx="868" cy="430.7" r="4.5"/><circle cx="885.1" cy="430.7" r="4.5"/><circle cx="902.2" cy="430.7" r="4.5"/><circle cx="919.4" cy="430.7" r="4.5"/><circle cx="936.5" cy="430.7" r="4.5"/><circle cx="953.7" cy="430.7" r="4.5"/><circle cx="970.8" cy="430.7" r="4.5"/><circle cx="987.9" cy="430.7" r="4.5"/><circle cx="1005.1" cy="430.7" r="4.5"/><circle cx="1022.2" cy="430.7" r="4.5"/><circle cx="1039.4" cy="430.7" r="4.5"/><circle cx="1056.5" cy="430.7" r="4.5"/><circle cx="1073.6" cy="430.7" r="4.5"/><circle cx="1090.8" cy="430.7" r="4.5"/><circle cx="688" cy="439.3" r="4.5"/><circle cx="705.1" cy="439.3" r="4.5"/><circle cx="722.3" cy="439.3" r="4.5"/><circle cx="739.4" cy="439.3" r="4.5"/><circle cx="756.5" cy="439.3" r="4.5"/><circle cx="773.7" cy="439.3" r="4.5"/><circle cx="790.8" cy="439.3" r="4.5"/><circle cx="808" cy="439.3" r="4.5"/><circle cx="825.1" cy="439.3" r="4.5"/><circle cx="842.2" cy="439.3" r="4.5"/><circle cx="859.4" cy="439.3" r="4.5"/><circle cx="876.5" cy="439.3" r="4.5"/><circle cx="893.7" cy="439.3" r="4.5"/><circle cx="910.8" cy="439.3" r="4.5"/><circle cx="927.9" cy="439.3" r="4.5"/><circle cx="945.1" cy="439.3" r="4.5"/><circle cx="962.2" cy="439.3" r="4.5"/><circle cx="979.4" cy="439.3" r="4.5"/><circle cx="996.5" cy="439.3" r="4.5"/><circle cx="1013.6" cy="439.3" r="4.5"/><circle cx="1030.8" cy="439.3" r="4.5"/><circle cx="1047.9" cy="439.3" r="4.5"/><circle cx="1065.1" cy="439.3" r="4.5"/><circle cx="1082.2" cy="439.3" r="4.5"/><circle cx="1099.4" cy="439.3" r="4.5"/><circle cx="679.4" cy="447.9" r="4.5"/><circle cx="696.6" cy="447.9" r="4.5"/><circle cx="713.7" cy="447.9" r="4.5"/><circle cx="730.8" cy="447.9" r="4.5"/><circle cx="748" cy="447.9" r="4.5"/><circle cx="765.1" cy="447.9" r="4.5"/><circle cx="782.3" cy="447.9" r="4.5"/><circle cx="799.4" cy="447.9" r="4.5"/><circle cx="816.5" cy="447.9" r="4.5"/><circle cx="833.7" cy="447.9" r="4.5"/><circle cx="850.8" cy="447.9" r="4.5"/><circle cx="868" cy="447.9" r="4.5"/><circle cx="885.1" cy="447.9" r="4.5"/><circle cx="902.2" cy="447.9" r="4.5"/><circle cx="919.4" cy="447.9" r="4.5"/><circle cx="936.5" cy="447.9" r="4.5"/><circle cx="953.7" cy="447.9" r="4.5"/><circle cx="970.8" cy="447.9" r="4.5"/><circle cx="987.9" cy="447.9" r="4.5"/><circle cx="1005.1" cy="447.9" r="4.5"/><circle cx="1022.2" cy="447.9" r="4.5"/><circle cx="1039.4" cy="447.9" r="4.5"/><circle cx="1056.5" cy="447.9" r="4.5"/><circle cx="1073.6" cy="447.9" r="4.5"/><circle cx="1090.8" cy="447.9" r="4.5"/><circle cx="688" cy="456.5" r="4.5"/><circle cx="705.1" cy="456.5" r="4.5"/><circle cx="722.3" cy="456.5" r="4.5"/><circle cx="739.4" cy="456.5" r="4.5"/><circle cx="756.5" cy="456.5" r="4.5"/><circle cx="773.7" cy="456.5" r="4.5"/><circle cx="790.8" cy="456.5" r="4.5"/><circle cx="808" cy="456.5" r="4.5"/><circle cx="825.1" cy="456.5" r="4.5"/><circle cx="842.2" cy="456.5" r="4.5"/><circle cx="859.4" cy="456.5" r="4.5"/><circle cx="876.5" cy="456.5" r="4.5"/><circle cx="893.7" cy="456.5" r="4.5"/><circle cx="910.8" cy="456.5" r="4.5"/><circle cx="927.9" cy="456.5" r="4.5"/><circle cx="945.1" cy="456.5" r="4.5"/><circle cx="962.2" cy="456.5" r="4.5"/><circle cx="979.4" cy="456.5" r="4.5"/><circle cx="996.5" cy="456.5" r="4.5"/><circle cx="1013.6" cy="456.5" r="4.5"/><circle cx="1030.8" cy="456.5" r="4.5"/><circle cx="1047.9" cy="456.5" r="4.5"/><circle cx="1065.1" cy="456.5" r="4.5"/><circle cx="1082.2" cy="456.5" r="4.5"/><circle cx="1099.4" cy="456.5" r="4.5"/><circle cx="679.4" cy="465.1" r="4.5"/><circle cx="696.6" cy="465.1" r="4.5"/><circle cx="713.7" cy="465.1" r="4.5"/><circle cx="730.8" cy="465.1" r="4.5"/><circle cx="748" cy="465.1" r="4.5"/><circle cx="765.1" cy="465.1" r="4.5"/><circle cx="782.3" cy="465.1" r="4.5"/><circle cx="799.4" cy="465.1" r="4.5"/><circle cx="816.5" cy="465.1" r="4.5"/><circle cx="833.7" cy="465.1" r="4.5"/><circle cx="850.8" cy="465.1" r="4.5"/><circle cx="868" cy="465.1" r="4.5"/><circle cx="885.1" cy="465.1" r="4.5"/><circle cx="902.2" cy="465.1" r="4.5"/><circle cx="919.4" cy="465.1" r="4.5"/><circle cx="936.5" cy="465.1" r="4.5"/><circle cx="953.7" cy="465.1" r="4.5"/><circle cx="970.8" cy="465.1" r="4.5"/><circle cx="987.9" cy="465.1" r="4.5"/><circle cx="1005.1" cy="465.1" r="4.5"/><circle cx="1022.2" cy="465.1" r="4.5"/><circle cx="1039.4" cy="465.1" r="4.5"/><circle cx="1056.5" cy="465.1" r="4.5"/><circle cx="1073.6" cy="465.1" r="4.5"/><circle cx="1090.8" cy="465.1" r="4.5"/><circle cx="688" cy="473.7" r="4.5"/><circle cx="705.1" cy="473.7" r="4.5"/><circle cx="722.3" cy="473.7" r="4.5"/><circle cx="739.4" cy="473.7" r="4.5"/><circle cx="756.5" cy="473.7" r="4.5"/><circle cx="773.7" cy="473.7" r="4.5"/><circle cx="790.8" cy="473.7" r="4.5"/><circle cx="808" cy="473.7" r="4.5"/><circle cx="825.1" cy="473.7" r="4.5"/><circle cx="842.2" cy="473.7" r="4.5"/><circle cx="859.4" cy="473.7" r="4.5"/><circle cx="876.5" cy="473.7" r="4.5"/><circle cx="893.7" cy="473.7" r="4.5"/><circle cx="910.8" cy="473.7" r="4.5"/><circle cx="927.9" cy="473.7" r="4.5"/><circle cx="945.1" cy="473.7" r="4.5"/><circle cx="962.2" cy="473.7" r="4.5"/><circle cx="979.4" cy="473.7" r="4.5"/><circle cx="996.5" cy="473.7" r="4.5"/><circle cx="1013.6" cy="473.7" r="4.5"/><circle cx="1030.8" cy="473.7" r="4.5"/><circle cx="1047.9" cy="473.7" r="4.5"/><circle cx="1065.1" cy="473.7" r="4.5"/><circle cx="1082.2" cy="473.7" r="4.5"/><circle cx="1099.4" cy="473.7" r="4.5"/><circle cx="679.4" cy="482.3" r="4.5"/><circle cx="696.6" cy="482.3" r="4.5"/><circle cx="713.7" cy="482.3" r="4.5"/><circle cx="730.8" cy="482.3" r="4.5"/><circle cx="748" cy="482.3" r="4.5"/><circle cx="765.1" cy="482.3" r="4.5"/><circle cx="782.3" cy="482.3" r="4.5"/><circle cx="799.4" cy="482.3" r="4.5"/><circle cx="816.5" cy="482.3" r="4.5"/><circle cx="833.7" cy="482.3" r="4.5"/><circle cx="850.8" cy="482.3" r="4.5"/><circle cx="868" cy="482.3" r="4.5"/><circle cx="885.1" cy="482.3" r="4.5"/><circle cx="902.2" cy="482.3" r="4.5"/><circle cx="919.4" cy="482.3" r="4.5"/><circle cx="936.5" cy="482.3" r="4.5"/><circle cx="953.7" cy="482.3" r="4.5"/><circle cx="970.8" cy="482.3" r="4.5"/><circle cx="987.9" cy="482.3" r="4.5"/><circle cx="1005.1" cy="482.3" r="4.5"/><circle cx="1022.2" cy="482.3" r="4.5"/><circle cx="1039.4" cy="482.3" r="4.5"/><circle cx="1056.5" cy="482.3" r="4.5"/><circle cx="1073.6" cy="482.3" r="4.5"/><circle cx="1090.8" cy="482.3" r="4.5"/><circle cx="688" cy="490.9" r="4.5"/><circle cx="705.1" cy="490.9" r="4.5"/><circle cx="722.3" cy="490.9" r="4.5"/><circle cx="739.4" cy="490.9" r="4.5"/><circle cx="756.5" cy="490.9" r="4.5"/><circle cx="773.7" cy="490.9" r="4.5"/><circle cx="790.8" cy="490.9" r="4.5"/><circle cx="808" cy="490.9" r="4.5"/><circle cx="825.1" cy="490.9" r="4.5"/><circle cx="842.2" cy="490.9" r="4.5"/><circle cx="859.4" cy="490.9" r="4.5"/><circle cx="876.5" cy="490.9" r="4.5"/><circle cx="893.7" cy="490.9" r="4.5"/><circle cx="910.8" cy="490.9" r="4.5"/><circle cx="927.9" cy="490.9" r="4.5"/><circle cx="945.1" cy="490.9" r="4.5"/><circle cx="962.2" cy="490.9" r="4.5"/><circle cx="979.4" cy="490.9" r="4.5"/><circle cx="996.5" cy="490.9" r="4.5"/><circle cx="1013.6" cy="490.9" r="4.5"/><circle cx="1030.8" cy="490.9" r="4.5"/><circle cx="1047.9" cy="490.9" r="4.5"/><circle cx="1065.1" cy="490.9" r="4.5"/><circle cx="1082.2" cy="490.9" r="4.5"/><circle cx="1099.4" cy="490.9" r="4.5"/><circle cx="679.4" cy="499.5" r="4.5"/><circle cx="696.6" cy="499.5" r="4.5"/><circle cx="713.7" cy="499.5" r="4.5"/><circle cx="730.8" cy="499.5" r="4.5"/><circle cx="748" cy="499.5" r="4.5"/><circle cx="765.1" cy="499.5" r="4.5"/><circle cx="782.3" cy="499.5" r="4.5"/><circle cx="799.4" cy="499.5" r="4.5"/><circle cx="816.5" cy="499.5" r="4.5"/><circle cx="833.7" cy="499.5" r="4.5"/><circle cx="850.8" cy="499.5" r="4.5"/><circle cx="868" cy="499.5" r="4.5"/><circle cx="885.1" cy="499.5" r="4.5"/><circle cx="902.2" cy="499.5" r="4.5"/><circle cx="919.4" cy="499.5" r="4.5"/><circle cx="936.5" cy="499.5" r="4.5"/><circle cx="953.7" cy="499.5" r="4.5"/><circle cx="970.8" cy="499.5" r="4.5"/><circle cx="987.9" cy="499.5" r="4.5"/><circle cx="1005.1" cy="499.5" r="4.5"/><circle cx="1022.2" cy="499.5" r="4.5"/><circle cx="1039.4" cy="499.5" r="4.5"/><circle cx="1056.5" cy="499.5" r="4.5"/><circle cx="1073.6" cy="499.5" r="4.5"/><circle cx="1090.8" cy="499.5" r="4.5"/><circle cx="688" cy="508.1" r="4.5"/><circle cx="705.1" cy="508.1" r="4.5"/><circle cx="722.3" cy="508.1" r="4.5"/><circle cx="739.4" cy="508.1" r="4.5"/><circle cx="756.5" cy="508.1" r="4.5"/><circle cx="773.7" cy="508.1" r="4.5"/><circle cx="790.8" cy="508.1" r="4.5"/><circle cx="808" cy="508.1" r="4.5"/><circle cx="825.1" cy="508.1" r="4.5"/><circle cx="842.2" cy="508.1" r="4.5"/><circle cx="859.4" cy="508.1" r="4.5"/><circle cx="876.5" cy="508.1" r="4.5"/><circle cx="893.7" cy="508.1" r="4.5"/><circle cx="910.8" cy="508.1" r="4.5"/><circle cx="927.9" cy="508.1" r="4.5"/><circle cx="945.1" cy="508.1" r="4.5"/><circle cx="962.2" cy="508.1" r="4.5"/><circle cx="979.4" cy="508.1" r="4.5"/><circle cx="996.5" cy="508.1" r="4.5"/><circle cx="1013.6" cy="508.1" r="4.5"/><circle cx="1030.8" cy="508.1" r="4.5"/><circle cx="1047.9" cy="508.1" r="4.5"/><circle cx="1065.1" cy="508.1" r="4.5"/><circle cx="1082.2" cy="508.1" r="4.5"/><circle cx="1099.4" cy="508.1" r="4.5"/><circle cx="679.4" cy="516.7" r="4.5"/><circle cx="696.6" cy="516.7" r="4.5"/><circle cx="713.7" cy="516.7" r="4.5"/><circle cx="730.8" cy="516.7" r="4.5"/><circle cx="748" cy="516.7" r="4.5"/><circle cx="765.1" cy="516.7" r="4.5"/><circle cx="782.3" cy="516.7" r="4.5"/><circle cx="799.4" cy="516.7" r="4.5"/><circle cx="816.5" cy="516.7" r="4.5"/><circle cx="833.7" cy="516.7" r="4.5"/><circle cx="850.8" cy="516.7" r="4.5"/><circle cx="868" cy="516.7" r="4.5"/><circle cx="885.1" cy="516.7" r="4.5"/><circle cx="902.2" cy="516.7" r="4.5"/><circle cx="919.4" cy="516.7" r="4.5"/><circle cx="936.5" cy="516.7" r="4.5"/><circle cx="953.7" cy="516.7" r="4.5"/><circle cx="970.8" cy="516.7" r="4.5"/><circle cx="987.9" cy="516.7" r="4.5"/><circle cx="1005.1" cy="516.7" r="4.5"/><circle cx="1022.2" cy="516.7" r="4.5"/><circle cx="1039.4" cy="516.7" r="4.5"/><circle cx="1056.5" cy="516.7" r="4.5"/><circle cx="1073.6" cy="516.7" r="4.5"/><circle cx="1090.8" cy="516.7" r="4.5"/><circle cx="688" cy="525.3" r="4.5"/><circle cx="705.1" cy="525.3" r="4.5"/><circle cx="722.3" cy="525.3" r="4.5"/><circle cx="739.4" cy="525.3" r="4.5"/><circle cx="756.5" cy="525.3" r="4.5"/><circle cx="773.7" cy="525.3" r="4.5"/><circle cx="790.8" cy="525.3" r="4.5"/><circle cx="808" cy="525.3" r="4.5"/><circle cx="825.1" cy="525.3" r="4.5"/><circle cx="842.2" cy="525.3" r="4.5"/><circle cx="859.4" cy="525.3" r="4.5"/><circle cx="876.5" cy="525.3" r="4.5"/><circle cx="893.7" cy="525.3" r="4.5"/><circle cx="910.8" cy="525.3" r="4.5"/><circle cx="927.9" cy="525.3" r="4.5"/><circle cx="945.1" cy="525.3" r="4.5"/><circle cx="962.2" cy="525.3" r="4.5"/><circle cx="979.4" cy="525.3" r="4.5"/><circle cx="996.5" cy="525.3" r="4.5"/><circle cx="1013.6" cy="525.3" r="4.5"/><circle cx="1030.8" cy="525.3" r="4.5"/><circle cx="1047.9" cy="525.3" r="4.5"/><circle cx="1065.1" cy="525.3" r="4.5"/><circle cx="1082.2" cy="525.3" r="4.5"/><circle cx="1099.4" cy="525.3" r="4.5"/><circle cx="679.4" cy="533.9" r="4.5"/><circle cx="696.6" cy="533.9" r="4.5"/><circle cx="713.7" cy="533.9" r="4.5"/><circle cx="730.8" cy="533.9" r="4.5"/><circle cx="748" cy="533.9" r="4.5"/><circle cx="765.1" cy="533.9" r="4.5"/><circle cx="782.3" cy="533.9" r="4.5"/><circle cx="799.4" cy="533.9" r="4.5"/><circle cx="816.5" cy="533.9" r="4.5"/><circle cx="833.7" cy="533.9" r="4.5"/><circle cx="850.8" cy="533.9" r="4.5"/><circle cx="868" cy="533.9" r="4.5"/><circle cx="885.1" cy="533.9" r="4.5"/><circle cx="902.2" cy="533.9" r="4.5"/><circle cx="919.4" cy="533.9" r="4.5"/><circle cx="936.5" cy="533.9" r="4.5"/><circle cx="953.7" cy="533.9" r="4.5"/><circle cx="970.8" cy="533.9" r="4.5"/><circle cx="987.9" cy="533.9" r="4.5"/><circle cx="1005.1" cy="533.9" r="4.5"/><circle cx="1022.2" cy="533.9" r="4.5"/><circle cx="1039.4" cy="533.9" r="4.5"/><circle cx="1056.5" cy="533.9" r="4.5"/><circle cx="1073.6" cy="533.9" r="4.5"/><circle cx="1090.8" cy="533.9" r="4.5"/><circle cx="688" cy="542.5" r="4.5"/><circle cx="705.1" cy="542.5" r="4.5"/><circle cx="722.3" cy="542.5" r="4.5"/><circle cx="739.4" cy="542.5" r="4.5"/><circle cx="756.5" cy="542.5" r="4.5"/><circle cx="773.7" cy="542.5" r="4.5"/><circle cx="790.8" cy="542.5" r="4.5"/><circle cx="808" cy="542.5" r="4.5"/><circle cx="825.1" cy="542.5" r="4.5"/><circle cx="842.2" cy="542.5" r="4.5"/><circle cx="859.4" cy="542.5" r="4.5"/><circle cx="876.5" cy="542.5" r="4.5"/><circle cx="893.7" cy="542.5" r="4.5"/><circle cx="910.8" cy="542.5" r="4.5"/><circle cx="927.9" cy="542.5" r="4.5"/><circle cx="945.1" cy="542.5" r="4.5"/><circle cx="962.2" cy="542.5" r="4.5"/><circle cx="979.4" cy="542.5" r="4.5"/><circle cx="996.5" cy="542.5" r="4.5"/><circle cx="1013.6" cy="542.5" r="4.5"/><circle cx="1030.8" cy="542.5" r="4.5"/><circle cx="1047.9" cy="542.5" r="4.5"/><circle cx="1065.1" cy="542.5" r="4.5"/><circle cx="1082.2" cy="542.5" r="4.5"/><circle cx="1099.4" cy="542.5" r="4.5"/><circle cx="679.4" cy="551.1" r="4.5"/><circle cx="696.6" cy="551.1" r="4.5"/><circle cx="713.7" cy="551.1" r="4.5"/><circle cx="730.8" cy="551.1" r="4.5"/><circle cx="748" cy="551.1" r="4.5"/><circle cx="765.1" cy="551.1" r="4.5"/><circle cx="782.3" cy="551.1" r="4.5"/><circle cx="799.4" cy="551.1" r="4.5"/><circle cx="816.5" cy="551.1" r="4.5"/><circle cx="833.7" cy="551.1" r="4.5"/><circle cx="850.8" cy="551.1" r="4.5"/><circle cx="868" cy="551.1" r="4.5"/><circle cx="885.1" cy="551.1" r="4.5"/><circle cx="902.2" cy="551.1" r="4.5"/><circle cx="919.4" cy="551.1" r="4.5"/><circle cx="936.5" cy="551.1" r="4.5"/><circle cx="953.7" cy="551.1" r="4.5"/><circle cx="970.8" cy="551.1" r="4.5"/><circle cx="987.9" cy="551.1" r="4.5"/><circle cx="1005.1" cy="551.1" r="4.5"/><circle cx="1022.2" cy="551.1" r="4.5"/><circle cx="1039.4" cy="551.1" r="4.5"/><circle cx="1056.5" cy="551.1" r="4.5"/><circle cx="1073.6" cy="551.1" r="4.5"/><circle cx="1090.8" cy="551.1" r="4.5"/></g></g>
<path d="M689,513.3 L691,513 L693,512.6 L695,512.2 L697,511.7 L699,511.2 L701,510.6 L703,510.1 L705,509.4 L707,508.8 L709,508.1 L711,507.3 L713,506.5 L715,505.7 L717,504.9 L719,504 L721,503.2 L723,502.2 L725,501.3 L727,500.3 L729,499.3 L731,498.3 L733,497.3 L735,496.3 L737,495.2 L739,494.1 L741,493 L743,491.9 L745,490.8 L747,489.7 L749,488.5 L751,487.4 L753,486.2 L755,485.1 L757.1,483.9 L759.1,482.7 L761.1,481.6 L763.1,480.4 L765.1,479.2 L767.1,478.1 L769.1,476.9 L771.1,475.8 L773.1,474.6 L775.1,473.5 L777.1,472.4 L779.1,471.2 L781.1,470.1 L783.1,469.1 L785.1,468 L787.1,466.9 L789.1,465.9 L791.1,464.9 L793.1,463.9 L795.1,462.9 L797.1,462 L799.1,461 L801.1,460.1 L803.1,459.2 L805.1,458.4 L807.1,457.6 L809.1,456.8 L811.1,456 L813.1,455.3 L815.1,454.6 L817.1,453.9 L819.1,453.3 L821.1,452.6 L823.1,452 L825.1,451.5 L827.1,450.9 L829.1,450.4 L831.1,450 L833.1,449.5 L835.1,449.1 L837.1,448.7 L839.1,448.3 L841.1,448 L843.1,447.7 L845.1,447.4 L847.1,447.1 L849.1,446.9 L851.1,446.7 L853.1,446.6 L855.1,446.4 L857.1,446.3 L859.1,446.2 L861.1,446.2 L863.1,446.2 L865.1,446.2 L867.1,446.2 L869.1,446.3 L871.1,446.4 L873.1,446.5 L875.1,446.6 L877.1,446.8 L879.1,447 L881.1,447.3 L883.1,447.5 L885.1,447.8 L887.1,448.1 L889.1,448.5 L891.1,448.9 L893.2,449.3 L895.2,449.7 L897.2,450.1 L899.2,450.6 L901.2,451.1 L903.2,451.6 L905.2,452.2 L907.2,452.7 L909.2,453.3 L911.2,453.9 L913.2,454.5 L915.2,455.1 L917.2,455.8 L919.2,456.5 L921.2,457.1 L923.2,457.8 L925.2,458.5 L927.2,459.3 L929.2,460 L931.2,460.8 L933.2,461.5 L935.2,462.3 L937.2,463.1 L939.2,463.9 L941.2,464.7 L943.2,465.5 L945.2,466.3 L947.2,467.1 L949.2,468 L951.2,468.8 L953.2,469.7 L955.2,470.5 L957.2,471.4 L959.2,472.2 L961.2,473.1 L963.2,473.9 L965.2,474.8 L967.2,475.6 L969.2,476.5 L971.2,477.4 L973.2,478.2 L975.2,479.1 L977.2,479.9 L979.2,480.8 L981.2,481.6 L983.2,482.4 L985.2,483.3 L987.2,484.1 L989.2,484.9 L991.2,485.7 L993.2,486.5 L995.2,487.3 L997.2,488.1 L999.2,488.9 L1001.2,489.6 L1003.2,490.4 L1005.2,491.1 L1007.2,491.9 L1009.2,492.6 L1011.2,493.3 L1013.2,494 L1015.2,494.7 L1017.2,495.4 L1019.2,496 L1021.2,496.7 L1023.2,497.3 L1025.2,498 L1027.3,498.6 L1029.3,499.2 L1031.3,499.8 L1033.3,500.4 L1035.3,501 L1037.3,501.6 L1039.3,502.1 L1041.3,502.6 L1043.3,503.2 L1045.3,503.7 L1047.3,504.2 L1049.3,504.7 L1051.3,505.2 L1053.3,505.6 L1055.3,506.1 L1057.3,506.5 L1059.3,506.9 L1061.3,507.3 L1063.3,507.7 L1065.3,508.1 L1067.3,508.4 L1069.3,508.8 L1071.3,509.1 L1073.3,509.4 L1075.3,509.7 L1077.3,510 L1079.3,510.3 L1081.3,510.5 L1083.3,510.8 L1085.3,511 L1087.3,511.2 L1089.3,511.4 L1091.3,511.6 L1093.3,511.7" fill="none" stroke="#161616" stroke-width="2.0"/>
<path d="M689,542.5 L691,542.3 L693,542.2 L695,541.9 L697,541.6 L699,541.3 L701,540.9 L703,540.4 L705,539.9 L707,539.3 L709,538.7 L711,538 L713,537.3 L715,536.5 L717,535.7 L719,534.9 L721,534 L723,533 L725,532.1 L727,531.1 L729,530.1 L731,529 L733,527.9 L735,526.8 L737,525.7 L739,524.5 L741,523.4 L743,522.2 L745,521 L747,519.7 L749,518.5 L751,517.2 L753,516 L755,514.7 L757.1,513.4 L759.1,512.2 L761.1,510.9 L763.1,509.6 L765.1,508.3 L767.1,507 L769.1,505.8 L771.1,504.5 L773.1,503.2 L775.1,502 L777.1,500.7 L779.1,499.5 L781.1,498.3 L783.1,497.1 L785.1,495.9 L787.1,494.8 L789.1,493.7 L791.1,492.6 L793.1,491.5 L795.1,490.4 L797.1,489.4 L799.1,488.4 L801.1,487.5 L803.1,486.6 L805.1,485.7 L807.1,484.9 L809.1,484 L811.1,483.3 L813.1,482.5 L815.1,481.8 L817.1,481.2 L819.1,480.5 L821.1,479.9 L823.1,479.4 L825.1,478.8 L827.1,478.3 L829.1,477.9 L831.1,477.4 L833.1,477 L835.1,476.7 L837.1,476.3 L839.1,476 L841.1,475.8 L843.1,475.5 L845.1,475.3 L847.1,475.1 L849.1,475 L851.1,474.9 L853.1,474.8 L855.1,474.7 L857.1,474.7 L859.1,474.7 L861.1,474.7 L863.1,474.8 L865.1,474.8 L867.1,474.9 L869.1,475.1 L871.1,475.2 L873.1,475.4 L875.1,475.6 L877.1,475.9 L879.1,476.2 L881.1,476.5 L883.1,476.8 L885.1,477.1 L887.1,477.5 L889.1,477.9 L891.1,478.3 L893.2,478.7 L895.2,479.2 L897.2,479.7 L899.2,480.2 L901.2,480.7 L903.2,481.2 L905.2,481.8 L907.2,482.4 L909.2,482.9 L911.2,483.6 L913.2,484.2 L915.2,484.8 L917.2,485.5 L919.2,486.1 L921.2,486.8 L923.2,487.5 L925.2,488.2 L927.2,488.9 L929.2,489.7 L931.2,490.4 L933.2,491.2 L935.2,491.9 L937.2,492.7 L939.2,493.5 L941.2,494.3 L943.2,495 L945.2,495.8 L947.2,496.6 L949.2,497.5 L951.2,498.3 L953.2,499.1 L955.2,499.9 L957.2,500.7 L959.2,501.5 L961.2,502.4 L963.2,503.2 L965.2,504 L967.2,504.8 L969.2,505.7 L971.2,506.5 L973.2,507.3 L975.2,508.1 L977.2,508.9 L979.2,509.7 L981.2,510.5 L983.2,511.3 L985.2,512.1 L987.2,512.9 L989.2,513.7 L991.2,514.5 L993.2,515.2 L995.2,516 L997.2,516.7 L999.2,517.4 L1001.2,518.2 L1003.2,518.9 L1005.2,519.6 L1007.2,520.3 L1009.2,521 L1011.2,521.7 L1013.2,522.3 L1015.2,523 L1017.2,523.7 L1019.2,524.3 L1021.2,524.9 L1023.2,525.6 L1025.2,526.2 L1027.3,526.8 L1029.3,527.4 L1031.3,528 L1033.3,528.6 L1035.3,529.1 L1037.3,529.7 L1039.3,530.2 L1041.3,530.8 L1043.3,531.3 L1045.3,531.8 L1047.3,532.4 L1049.3,532.9 L1051.3,533.4 L1053.3,533.8 L1055.3,534.3 L1057.3,534.8 L1059.3,535.3 L1061.3,535.7 L1063.3,536.2 L1065.3,536.6 L1067.3,537 L1069.3,537.4 L1071.3,537.8 L1073.3,538.2 L1075.3,538.6 L1077.3,539 L1079.3,539.3 L1081.3,539.7 L1083.3,540 L1085.3,540.4 L1087.3,540.7 L1089.3,541 L1091.3,541.3 L1093.3,541.6" fill="none" stroke="#161616" stroke-width="2.0"/>
<g clip-path="url(#ct)"><rect x="1100" y="165" width="410" height="390" fill="#ebebeb"/><circle cx="1466.5" cy="175" r="4.5" fill="#ffe500"/><circle cx="1483.7" cy="175" r="4.5" fill="#ffe500"/><circle cx="1500.8" cy="175" r="4.5" fill="#ffe500"/><circle cx="1475.1" cy="183.6" r="4.5" fill="#00c4f0"/><circle cx="1492.2" cy="183.6" r="4.5" fill="#00c4f0"/><circle cx="1466.5" cy="192.2" r="4.5" fill="#ffe500"/><circle cx="1483.7" cy="192.2" r="4.5" fill="#ffe500"/><circle cx="1500.8" cy="192.2" r="4.5" fill="#ffe500"/><circle cx="1475.1" cy="200.8" r="4.5" fill="#00c4f0"/><circle cx="1492.2" cy="200.8" r="4.5" fill="#00c4f0"/><circle cx="1466.5" cy="209.4" r="4.5" fill="#ffe500"/><circle cx="1483.7" cy="209.4" r="4.5" fill="#ffe500"/><circle cx="1500.8" cy="209.4" r="4.5" fill="#ffe500"/><circle cx="1475.1" cy="218" r="4.5" fill="#ffe500"/><circle cx="1492.2" cy="218" r="4.5" fill="#00c4f0"/><circle cx="1466.5" cy="226.6" r="4.5" fill="#00c4f0"/><circle cx="1483.7" cy="226.6" r="4.5" fill="#ffe500"/><circle cx="1500.8" cy="226.6" r="4.5" fill="#ffe500"/><circle cx="1475.1" cy="235.2" r="4.5" fill="#ffe500"/><circle cx="1492.2" cy="235.2" r="4.5" fill="#ffe500"/><circle cx="1466.5" cy="243.8" r="4.5" fill="#ffe500"/><circle cx="1483.7" cy="243.8" r="4.5" fill="#00c4f0"/><circle cx="1500.8" cy="243.8" r="4.5" fill="#ffe500"/><circle cx="1475.1" cy="252.4" r="4.5" fill="#ffe500"/><circle cx="1492.2" cy="252.4" r="4.5" fill="#ffe500"/><circle cx="1466.5" cy="261" r="4.5" fill="#00c4f0"/><circle cx="1483.7" cy="261" r="4.5" fill="#00c4f0"/><circle cx="1500.8" cy="261" r="4.5" fill="#ffe500"/><circle cx="1475.1" cy="269.6" r="4.5" fill="#ffe500"/><circle cx="1492.2" cy="269.6" r="4.5" fill="#00c4f0"/><circle cx="1466.5" cy="278.2" r="4.5" fill="#ffe500"/><circle cx="1483.7" cy="278.2" r="4.5" fill="#ffe500"/><circle cx="1500.8" cy="278.2" r="4.5" fill="#ffe500"/><circle cx="1475.1" cy="286.8" r="4.5" fill="#00c4f0"/><circle cx="1492.2" cy="286.8" r="4.5" fill="#ffe500"/><circle cx="1466.5" cy="295.4" r="4.5" fill="#ffe500"/><circle cx="1483.7" cy="295.4" r="4.5" fill="#ffe500"/><circle cx="1500.8" cy="295.4" r="4.5" fill="#ffe500"/><circle cx="1475.1" cy="304" r="4.5" fill="#ffe500"/><circle cx="1492.2" cy="304" r="4.5" fill="#00c4f0"/><circle cx="1466.5" cy="312.6" r="4.5" fill="#ffe500"/><circle cx="1483.7" cy="312.6" r="4.5" fill="#ffe500"/><circle cx="1500.8" cy="312.6" r="4.5" fill="#ffe500"/><circle cx="1475.1" cy="321.2" r="4.5" fill="#00c4f0"/><circle cx="1492.2" cy="321.2" r="4.5" fill="#00c4f0"/><circle cx="1466.5" cy="329.8" r="4.5" fill="#ffe500"/><circle cx="1483.7" cy="329.8" r="4.5" fill="#ffe500"/><circle cx="1500.8" cy="329.8" r="4.5" fill="#ffe500"/><circle cx="1475.1" cy="338.4" r="4.5" fill="#00c4f0"/><circle cx="1492.2" cy="338.4" r="4.5" fill="#ffe500"/><circle cx="1466.5" cy="347" r="4.5" fill="#ffe500"/><circle cx="1483.7" cy="347" r="4.5" fill="#00c4f0"/><circle cx="1500.8" cy="347" r="4.5" fill="#ffe500"/><circle cx="1440.8" cy="355.6" r="4.5" fill="#ffe500"/><circle cx="1457.9" cy="355.6" r="4.5" fill="#00c4f0"/><circle cx="1475.1" cy="355.6" r="4.5" fill="#ffe500"/><circle cx="1492.2" cy="355.6" r="4.5" fill="#ffe500"/><circle cx="1432.2" cy="364.2" r="4.5" fill="#ffe500"/><circle cx="1449.4" cy="364.2" r="4.5" fill="#ffe500"/><circle cx="1466.5" cy="364.2" r="4.5" fill="#00c4f0"/><circle cx="1483.7" cy="364.2" r="4.5" fill="#ffe500"/><circle cx="1500.8" cy="364.2" r="4.5" fill="#ffe500"/><circle cx="1406.5" cy="372.8" r="4.5" fill="#ffe500"/><circle cx="1423.7" cy="372.8" r="4.5" fill="#ffe500"/><circle cx="1440.8" cy="372.8" r="4.5" fill="#00c4f0"/><circle cx="1457.9" cy="372.8" r="4.5" fill="#ffe500"/><circle cx="1475.1" cy="372.8" r="4.5" fill="#ffe500"/><circle cx="1492.2" cy="372.8" r="4.5" fill="#ffe500"/><circle cx="1398" cy="381.4" r="4.5" fill="#ffe500"/><circle cx="1415.1" cy="381.4" r="4.5" fill="#00c4f0"/><circle cx="1432.2" cy="381.4" r="4.5" fill="#ffe500"/><circle cx="1449.4" cy="381.4" r="4.5" fill="#00c4f0"/><circle cx="1466.5" cy="381.4" r="4.5" fill="#ffe500"/><circle cx="1483.7" cy="381.4" r="4.5" fill="#ffe500"/><circle cx="1500.8" cy="381.4" r="4.5" fill="#ffe500"/><circle cx="1372.2" cy="390" r="4.5" fill="#ffe500"/><circle cx="1389.4" cy="390" r="4.5" fill="#00c4f0"/><circle cx="1406.5" cy="390" r="4.5" fill="#ffe500"/><circle cx="1423.7" cy="390" r="4.5" fill="#00c4f0"/><circle cx="1440.8" cy="390" r="4.5" fill="#ffe500"/><circle cx="1457.9" cy="390" r="4.5" fill="#ffe500"/><circle cx="1363.7" cy="398.6" r="4.5" fill="#ffe500"/><circle cx="1380.8" cy="398.6" r="4.5" fill="#ffe500"/><circle cx="1398" cy="398.6" r="4.5" fill="#00c4f0"/><circle cx="1415.1" cy="398.6" r="4.5" fill="#ffe500"/><circle cx="1432.2" cy="398.6" r="4.5" fill="#ffe500"/><circle cx="1338" cy="407.2" r="4.5" fill="#ffe500"/><circle cx="1355.1" cy="407.2" r="4.5" fill="#ffe500"/><circle cx="1372.2" cy="407.2" r="4.5" fill="#00c4f0"/><circle cx="1389.4" cy="407.2" r="4.5" fill="#ffe500"/><circle cx="1406.5" cy="407.2" r="4.5" fill="#ffe500"/><circle cx="1423.7" cy="407.2" r="4.5" fill="#ffe500"/><circle cx="1329.4" cy="415.8" r="4.5" fill="#ffe500"/><circle cx="1346.5" cy="415.8" r="4.5" fill="#00c4f0"/><circle cx="1363.7" cy="415.8" r="4.5" fill="#ffe500"/><circle cx="1380.8" cy="415.8" r="4.5" fill="#00c4f0"/><circle cx="1398" cy="415.8" r="4.5" fill="#ffe500"/><circle cx="1303.7" cy="424.4" r="4.5" fill="#ffe500"/><circle cx="1320.8" cy="424.4" r="4.5" fill="#00c4f0"/><circle cx="1338" cy="424.4" r="4.5" fill="#ffe500"/><circle cx="1355.1" cy="424.4" r="4.5" fill="#00c4f0"/><circle cx="1372.2" cy="424.4" r="4.5" fill="#ffe500"/><circle cx="1295.1" cy="433" r="4.5" fill="#ffe500"/><circle cx="1312.2" cy="433" r="4.5" fill="#ffe500"/><circle cx="1329.4" cy="433" r="4.5" fill="#00c4f0"/><circle cx="1346.5" cy="433" r="4.5" fill="#ffe500"/><circle cx="1363.7" cy="433" r="4.5" fill="#ffe500"/><circle cx="1269.4" cy="441.6" r="4.5" fill="#ffe500"/><circle cx="1286.5" cy="441.6" r="4.5" fill="#ffe500"/><circle cx="1303.7" cy="441.6" r="4.5" fill="#00c4f0"/><circle cx="1320.8" cy="441.6" r="4.5" fill="#ffe500"/><circle cx="1338" cy="441.6" r="4.5" fill="#ffe500"/><circle cx="1243.7" cy="450.2" r="4.5" fill="#ffe500"/><circle cx="1260.8" cy="450.2" r="4.5" fill="#ffe500"/><circle cx="1278" cy="450.2" r="4.5" fill="#00c4f0"/><circle cx="1295.1" cy="450.2" r="4.5" fill="#ffe500"/><circle cx="1312.2" cy="450.2" r="4.5" fill="#00c4f0"/><circle cx="1329.4" cy="450.2" r="4.5" fill="#ffe500"/><circle cx="1235.1" cy="458.8" r="4.5" fill="#ffe500"/><circle cx="1252.3" cy="458.8" r="4.5" fill="#00c4f0"/><circle cx="1269.4" cy="458.8" r="4.5" fill="#ffe500"/><circle cx="1286.5" cy="458.8" r="4.5" fill="#00c4f0"/><circle cx="1303.7" cy="458.8" r="4.5" fill="#ffe500"/><circle cx="1209.4" cy="467.4" r="4.5" fill="#ffe500"/><circle cx="1226.5" cy="467.4" r="4.5" fill="#00c4f0"/><circle cx="1243.7" cy="467.4" r="4.5" fill="#ffe500"/><circle cx="1260.8" cy="467.4" r="4.5" fill="#00c4f0"/><circle cx="1278" cy="467.4" r="4.5" fill="#ffe500"/><circle cx="1295.1" cy="467.4" r="4.5" fill="#ffe500"/><circle cx="1200.8" cy="476" r="4.5" fill="#ffe500"/><circle cx="1218" cy="476" r="4.5" fill="#ffe500"/><circle cx="1235.1" cy="476" r="4.5" fill="#00c4f0"/><circle cx="1252.3" cy="476" r="4.5" fill="#ffe500"/><circle cx="1269.4" cy="476" r="4.5" fill="#ffe500"/><circle cx="1175.1" cy="484.6" r="4.5" fill="#ffe500"/><circle cx="1192.3" cy="484.6" r="4.5" fill="#ffe500"/><circle cx="1209.4" cy="484.6" r="4.5" fill="#00c4f0"/><circle cx="1226.5" cy="484.6" r="4.5" fill="#ffe500"/><circle cx="1243.7" cy="484.6" r="4.5" fill="#ffe500"/><circle cx="1260.8" cy="484.6" r="4.5" fill="#ffe500"/><circle cx="1166.6" cy="493.2" r="4.5" fill="#ffe500"/><circle cx="1183.7" cy="493.2" r="4.5" fill="#00c4f0"/><circle cx="1200.8" cy="493.2" r="4.5" fill="#ffe500"/><circle cx="1218" cy="493.2" r="4.5" fill="#00c4f0"/><circle cx="1235.1" cy="493.2" r="4.5" fill="#ffe500"/><circle cx="1140.8" cy="501.8" r="4.5" fill="#ffe500"/><circle cx="1158" cy="501.8" r="4.5" fill="#ffe500"/><circle cx="1175.1" cy="501.8" r="4.5" fill="#ffe500"/><circle cx="1192.3" cy="501.8" r="4.5" fill="#00c4f0"/><circle cx="1209.4" cy="501.8" r="4.5" fill="#ffe500"/><circle cx="1132.3" cy="510.4" r="4.5" fill="#ffe500"/><circle cx="1149.4" cy="510.4" r="4.5" fill="#00c4f0"/><circle cx="1166.6" cy="510.4" r="4.5" fill="#00c4f0"/><circle cx="1183.7" cy="510.4" r="4.5" fill="#ffe500"/><circle cx="1200.8" cy="510.4" r="4.5" fill="#ffe500"/><circle cx="1123.7" cy="519" r="4.5" fill="#ffe500"/><circle cx="1140.8" cy="519" r="4.5" fill="#ffe500"/><circle cx="1158" cy="519" r="4.5" fill="#ffe500"/><circle cx="1175.1" cy="519" r="4.5" fill="#ffe500"/><circle cx="1132.3" cy="527.6" r="4.5" fill="#00c4f0"/><circle cx="1149.4" cy="527.6" r="4.5" fill="#00c4f0"/><circle cx="1166.6" cy="527.6" r="4.5" fill="#ffe500"/><circle cx="1123.7" cy="536.2" r="4.5" fill="#ffe500"/><circle cx="1140.8" cy="536.2" r="4.5" fill="#ffe500"/><circle cx="1132.3" cy="544.8" r="4.5" fill="#ffe500"/></g>
<path d="M1466,174 V330.9 Q1466,348.9 1449.8,356.7 L1128.8,511.5 L1128.8,542.5 L1470.2,379.4 Q1499,365.5 1499,333.5 V174" fill="none" stroke="#161616" stroke-width="2.0"/>
<rect x="641" y="501.3" width="60.5" height="6" fill="#f4f4f4" stroke="#161616" stroke-width="1.5"/><rect x="654" y="508.3" width="34.5" height="37" fill="#ebebeb" stroke="#161616" stroke-width="1.6"/><circle cx="671.2" cy="526.2" r="9.2" fill="#ebebeb" stroke="#161616" stroke-width="1.6"/><line x1="680.4" y1="526.2" x2="684.5" y2="526.2" stroke="#161616" stroke-width="1.6"/><line x1="677.7" y1="532.7" x2="680.6" y2="535.6" stroke="#161616" stroke-width="1.6"/><line x1="671.2" y1="535.4" x2="671.2" y2="539.5" stroke="#161616" stroke-width="1.6"/><line x1="664.7" y1="532.7" x2="661.8" y2="535.6" stroke="#161616" stroke-width="1.6"/><line x1="662" y1="526.2" x2="657.9" y2="526.2" stroke="#161616" stroke-width="1.6"/><line x1="664.7" y1="519.7" x2="661.8" y2="516.8" stroke="#161616" stroke-width="1.6"/><line x1="671.2" y1="517" x2="671.2" y2="512.9" stroke="#161616" stroke-width="1.6"/><line x1="677.7" y1="519.7" x2="680.6" y2="516.8" stroke="#161616" stroke-width="1.6"/>
<rect x="1080.3" y="501.3" width="60.5" height="6" fill="#f4f4f4" stroke="#161616" stroke-width="1.5"/><rect x="1093.3" y="508.3" width="34.5" height="37" fill="#ebebeb" stroke="#161616" stroke-width="1.6"/><circle cx="1110.5" cy="526.2" r="9.2" fill="#ebebeb" stroke="#161616" stroke-width="1.6"/><line x1="1119.7" y1="526.2" x2="1123.8" y2="526.2" stroke="#161616" stroke-width="1.6"/><line x1="1117" y1="532.7" x2="1119.9" y2="535.6" stroke="#161616" stroke-width="1.6"/><line x1="1110.5" y1="535.4" x2="1110.5" y2="539.5" stroke="#161616" stroke-width="1.6"/><line x1="1104" y1="532.7" x2="1101.1" y2="535.6" stroke="#161616" stroke-width="1.6"/><line x1="1101.3" y1="526.2" x2="1097.2" y2="526.2" stroke="#161616" stroke-width="1.6"/><line x1="1104" y1="519.7" x2="1101.1" y2="516.8" stroke="#161616" stroke-width="1.6"/><line x1="1110.5" y1="517" x2="1110.5" y2="512.9" stroke="#161616" stroke-width="1.6"/><line x1="1117" y1="519.7" x2="1119.9" y2="516.8" stroke="#161616" stroke-width="1.6"/>
<path d="M1521,182 C1521.7,183 1523,184.8 1525.2,188 C1527.4,191.2 1531.1,196.8 1534,201.3 C1536.9,205.8 1540,210.3 1542.7,215 C1545.4,219.7 1547.9,224.4 1550,229.4 C1552.1,234.4 1553.8,239.6 1555.3,244.8 C1556.8,250 1558,255.2 1558.8,260.5 C1559.6,265.8 1559.9,271.2 1560.2,276.6 C1560.5,282 1560.6,287.3 1560.6,292.7 C1560.6,298.1 1560.4,303.6 1560.2,308.9 C1560,314.2 1559.8,319.2 1559.5,324.6 C1559.2,330 1558.8,335.6 1558.5,341 C1558.2,346.4 1557.7,351.9 1557.4,357.2 C1557.1,362.5 1556.8,367.6 1556.7,373 C1556.6,378.4 1556.5,384 1556.7,389.4 C1556.9,394.8 1557.3,399.9 1557.8,405.2 C1558.3,410.5 1558.9,415.9 1559.5,421.3 C1560.1,426.7 1560.7,432.5 1561.6,437.8 C1562.5,443.1 1563.5,448.2 1564.7,453.3 C1565.9,458.4 1567.3,463.6 1568.7,468.7 C1570.1,473.8 1571.7,478.9 1573.3,484 C1574.9,489.1 1576.5,494.3 1578.5,499.4 C1580.5,504.5 1582.8,509.5 1585,514.4 C1587.2,519.3 1589.2,523.9 1591.6,528.8 C1594,533.6 1596.7,538.8 1599.4,543.5 C1602.1,548.2 1604.9,552.3 1607.6,556.9 C1610.3,561.5 1613,566.7 1615.8,571.3 C1618.6,575.9 1621.3,579.8 1624.2,584.3 C1627.1,588.8 1630.4,593.8 1633.1,598.4 C1635.8,603 1638.1,607.3 1640.6,612 C1643,616.7 1645.8,621.8 1647.8,626.8 C1649.8,631.8 1651.5,636.8 1652.7,641.8 C1654,646.8 1654.8,653.7 1655.3,657.1 C1655.8,660.5 1655.9,661.2 1656,662" fill="none" stroke="#ffe500" stroke-width="8" stroke-dasharray="8 24.2" stroke-dashoffset="-3.3"/>
<path d="M1521,182 C1521.7,183 1523,184.8 1525.2,188 C1527.4,191.2 1531.1,196.8 1534,201.3 C1536.9,205.8 1540,210.3 1542.7,215 C1545.4,219.7 1547.9,224.4 1550,229.4 C1552.1,234.4 1553.8,239.6 1555.3,244.8 C1556.8,250 1558,255.2 1558.8,260.5 C1559.6,265.8 1559.9,271.2 1560.2,276.6 C1560.5,282 1560.6,287.3 1560.6,292.7 C1560.6,298.1 1560.4,303.6 1560.2,308.9 C1560,314.2 1559.8,319.2 1559.5,324.6 C1559.2,330 1558.8,335.6 1558.5,341 C1558.2,346.4 1557.7,351.9 1557.4,357.2 C1557.1,362.5 1556.8,367.6 1556.7,373 C1556.6,378.4 1556.5,384 1556.7,389.4 C1556.9,394.8 1557.3,399.9 1557.8,405.2 C1558.3,410.5 1558.9,415.9 1559.5,421.3 C1560.1,426.7 1560.7,432.5 1561.6,437.8 C1562.5,443.1 1563.5,448.2 1564.7,453.3 C1565.9,458.4 1567.3,463.6 1568.7,468.7 C1570.1,473.8 1571.7,478.9 1573.3,484 C1574.9,489.1 1576.5,494.3 1578.5,499.4 C1580.5,504.5 1582.8,509.5 1585,514.4 C1587.2,519.3 1589.2,523.9 1591.6,528.8 C1594,533.6 1596.7,538.8 1599.4,543.5 C1602.1,548.2 1604.9,552.3 1607.6,556.9 C1610.3,561.5 1613,566.7 1615.8,571.3 C1618.6,575.9 1621.3,579.8 1624.2,584.3 C1627.1,588.8 1630.4,593.8 1633.1,598.4 C1635.8,603 1638.1,607.3 1640.6,612 C1643,616.7 1645.8,621.8 1647.8,626.8 C1649.8,631.8 1651.5,636.8 1652.7,641.8 C1654,646.8 1654.8,653.7 1655.3,657.1 C1655.8,660.5 1655.9,661.2 1656,662" fill="none" stroke="#00c4f0" stroke-width="8" stroke-dasharray="8 24.2" stroke-dashoffset="-19.4"/>
<polygon points="1464.3,173 1471.3,169.3 1491.6,169.3 1499.3,173" fill="#bdbdbd" stroke="#161616" stroke-width="1.2"/>
<line x1="1441.2" y1="173.3" x2="1521" y2="173.3" stroke="#161616" stroke-width="2.8"/>
<circle cx="1448.6" cy="182.1" r="4.3" fill="#e6e6e6" stroke="#161616" stroke-width="1.5"/>
<circle cx="1459.4" cy="182.1" r="4.3" fill="#e6e6e6" stroke="#161616" stroke-width="1.5"/>
<circle cx="1470.3" cy="182.1" r="4.3" fill="#e6e6e6" stroke="#161616" stroke-width="1.5"/>
<circle cx="1481.1" cy="182.1" r="4.3" fill="#e6e6e6" stroke="#161616" stroke-width="1.5"/>
<circle cx="1492" cy="182.1" r="4.3" fill="#e6e6e6" stroke="#161616" stroke-width="1.5"/>
<circle cx="1502.8" cy="182.1" r="4.3" fill="#e6e6e6" stroke="#161616" stroke-width="1.5"/>
<circle cx="1513.7" cy="182.1" r="4.3" fill="#e6e6e6" stroke="#161616" stroke-width="1.5"/>
<circle cx="1524.5" cy="182.1" r="4.3" fill="#e6e6e6" stroke="#161616" stroke-width="1.5"/>
<line x1="130.5" y1="785.4" x2="1978" y2="785.4" stroke="#111" stroke-width="2.2" stroke-linecap="round"/>
<g fill="#000"><path fill-rule="evenodd" d="M1185.3,629 a155.2,155.2 0 1,0 310.4,0 a155.2,155.2 0 1,0 -310.4,0 Z M1262.5,629 a78,78 0 1,0 156,0 a78,78 0 1,0 -156,0 Z"/><rect x="-5.6" y="-162.7" width="11.2" height="12" transform="translate(1340.5,629) rotate(10)"/><rect x="-5.6" y="-162.7" width="11.2" height="12" transform="translate(1340.5,629) rotate(30)"/><rect x="-5.6" y="-162.7" width="11.2" height="12" transform="translate(1340.5,629) rotate(50)"/><rect x="-5.6" y="-162.7" width="11.2" height="12" transform="translate(1340.5,629) rotate(70)"/><rect x="-5.6" y="-162.7" width="11.2" height="12" transform="translate(1340.5,629) rotate(90)"/><rect x="-5.6" y="-162.7" width="11.2" height="12" transform="translate(1340.5,629) rotate(110)"/><rect x="-5.6" y="-162.7" width="11.2" height="12" transform="translate(1340.5,629) rotate(130)"/><rect x="-5.6" y="-162.7" width="11.2" height="12" transform="translate(1340.5,629) rotate(150)"/><rect x="-5.6" y="-162.7" width="11.2" height="12" transform="translate(1340.5,629) rotate(170)"/><rect x="-5.6" y="-162.7" width="11.2" height="12" transform="translate(1340.5,629) rotate(190)"/><rect x="-5.6" y="-162.7" width="11.2" height="12" transform="translate(1340.5,629) rotate(210)"/><rect x="-5.6" y="-162.7" width="11.2" height="12" transform="translate(1340.5,629) rotate(230)"/><rect x="-5.6" y="-162.7" width="11.2" height="12" transform="translate(1340.5,629) rotate(250)"/><rect x="-5.6" y="-162.7" width="11.2" height="12" transform="translate(1340.5,629) rotate(270)"/><rect x="-5.6" y="-162.7" width="11.2" height="12" transform="translate(1340.5,629) rotate(290)"/><rect x="-5.6" y="-162.7" width="11.2" height="12" transform="translate(1340.5,629) rotate(310)"/><rect x="-5.6" y="-162.7" width="11.2" height="12" transform="translate(1340.5,629) rotate(330)"/><rect x="-5.6" y="-162.7" width="11.2" height="12" transform="translate(1340.5,629) rotate(350)"/></g>
<line x1="1668" y1="796.6" x2="1978.4" y2="796.6" stroke="#00c4f0" stroke-width="8" stroke-dasharray="8 24.2"/>
<line x1="1684" y1="796.6" x2="1978.4" y2="796.6" stroke="#ffe500" stroke-width="8" stroke-dasharray="8 24.2"/>
<path d="M536.5,631.3 C555,645 567.5,668 566.5,695 L559.5,743 L547.6,817.2 L544,831.9 L528.4,844.7 L516.5,848 L543.3,697 C543.8,680 535,663 520.8,649.8 Z" fill="#0b64b0" stroke="#0b2f55" stroke-width="1.1"/><polygon points="547.6,817.2 559.5,743 562.3,743 565.6,717.8 573.6,717.8 570.5,743 573.6,743 560.4,826.4" fill="#0b64b0" stroke="#0b2f55" stroke-width="1.1"/>
<path d="M728.2,631.3 C746.7,645 759.2,668 758.2,695 L751.2,743 L739.3,817.2 L735.7,831.9 L720.1,844.7 L708.2,848 L735,697 C735.5,680 726.7,663 712.5,649.8 Z" fill="#0b64b0" stroke="#0b2f55" stroke-width="1.1"/><polygon points="739.3,817.2 751.2,743 754,743 757.3,717.8 765.3,717.8 762.2,743 765.3,743 752.1,826.4" fill="#0b64b0" stroke="#0b2f55" stroke-width="1.1"/>
<path d="M914,631.3 C932.5,645 945,668 944,695 L937,743 L925.1,817.2 L921.5,831.9 L905.9,844.7 L894,848 L920.8,697 C921.3,680 912.5,663 898.3,649.8 Z" fill="#0b64b0" stroke="#0b2f55" stroke-width="1.1"/><polygon points="925.1,817.2 937,743 939.8,743 943.1,717.8 951.1,717.8 948,743 951.1,743 937.9,826.4" fill="#0b64b0" stroke="#0b2f55" stroke-width="1.1"/>
<path d="M976,702.8 L976,733.6 C985,742 993,749 1001.1,755.4 C1007,760 1013,763 1020.3,765.1 L1088.3,781.7 C1093,783 1097,783.5 1099.8,783 C1105,782 1107.5,780 1107.5,776 L1107.5,768.3 C1107.5,765.5 1105,763.5 1099.8,761.9 L1099.8,750.3 C1099.8,747.5 1098,746 1094,744.8 C1090,743.5 1086,742.7 1081.9,742.6 L1031.8,742.3 C1026,741.5 1020,739 1015.2,735.5 C1008,731 1002,726 995.9,720.8 Z" fill="#0b64b0" stroke="#0b2f55" stroke-width="1.1"/>
<path d="M1030,742.3 C1045,748 1055,753 1062.6,755.4 C1075,759 1088,761 1099.8,761.9" fill="none" stroke="#0b2f55" stroke-width="1.1"/>
<path d="M351.2,699.7 L371.7,700.7 C375,700.5 377,698 376.8,694.9 C376.5,683 367,675.2 357.1,675.2 C345,675.2 336.7,684 336.7,694.2 C336.7,697 337,699 338.1,701.5 L377.5,765.6 V782.8" fill="none" stroke="#1d4366" stroke-width="3" stroke-linejoin="round"/>
<line x1="360.3" y1="741" x2="377.5" y2="766" stroke="#1d4366" stroke-width="4.2"/>
<line x1="1527.6" y1="719.4" x2="1550.4" y2="782.5" stroke="#123d63" stroke-width="3.4"/>
<line x1="1527.6" y1="720.4" x2="1550.4" y2="781.5" stroke="#1f5f98" stroke-width="1.6"/>
<line x1="1862.6" y1="719.4" x2="1885.4" y2="782.5" stroke="#123d63" stroke-width="3.4"/>
<line x1="1862.6" y1="720.4" x2="1885.4" y2="781.5" stroke="#1f5f98" stroke-width="1.6"/>
<rect x="1651.4" y="666.4" width="9.6" height="35" fill="#0b64b0" stroke="#0b2f55" stroke-width="1"/>
<circle cx="1668.3" cy="745" r="51.9" fill="#0b64b0" stroke="#0b2f55" stroke-width="1.2"/>
<circle cx="1668.2" cy="745.1" r="14.2" fill="none" stroke="#0b2f55" stroke-width="1.2"/>
<circle cx="1774" cy="735.2" r="48.1" fill="#0b64b0" stroke="#0b2f55" stroke-width="1.2"/>
<g fill="#fff" stroke="#0b2f55" stroke-width="1.2" stroke-linejoin="round"><path d="M1738.8,730.1 A35.6,35.6 0 0,1 1787.2,702.1 L1776.4,720.7 A14.7,14.7 0 0,0 1760.2,730.1 Z"/><path d="M1796.1,707.3 A35.6,35.6 0 0,1 1796.1,763.1 L1785.3,744.5 A14.7,14.7 0 0,0 1785.3,725.9 Z"/><path d="M1787.2,768.3 A35.6,35.6 0 0,1 1738.8,740.4 L1760.2,740.4 A14.7,14.7 0 0,0 1776.4,749.7 Z"/></g>
<circle cx="1774" cy="735.2" r="8.65" fill="#fff" stroke="#0b2f55" stroke-width="1.2"/>
</svg>
</body></html>
